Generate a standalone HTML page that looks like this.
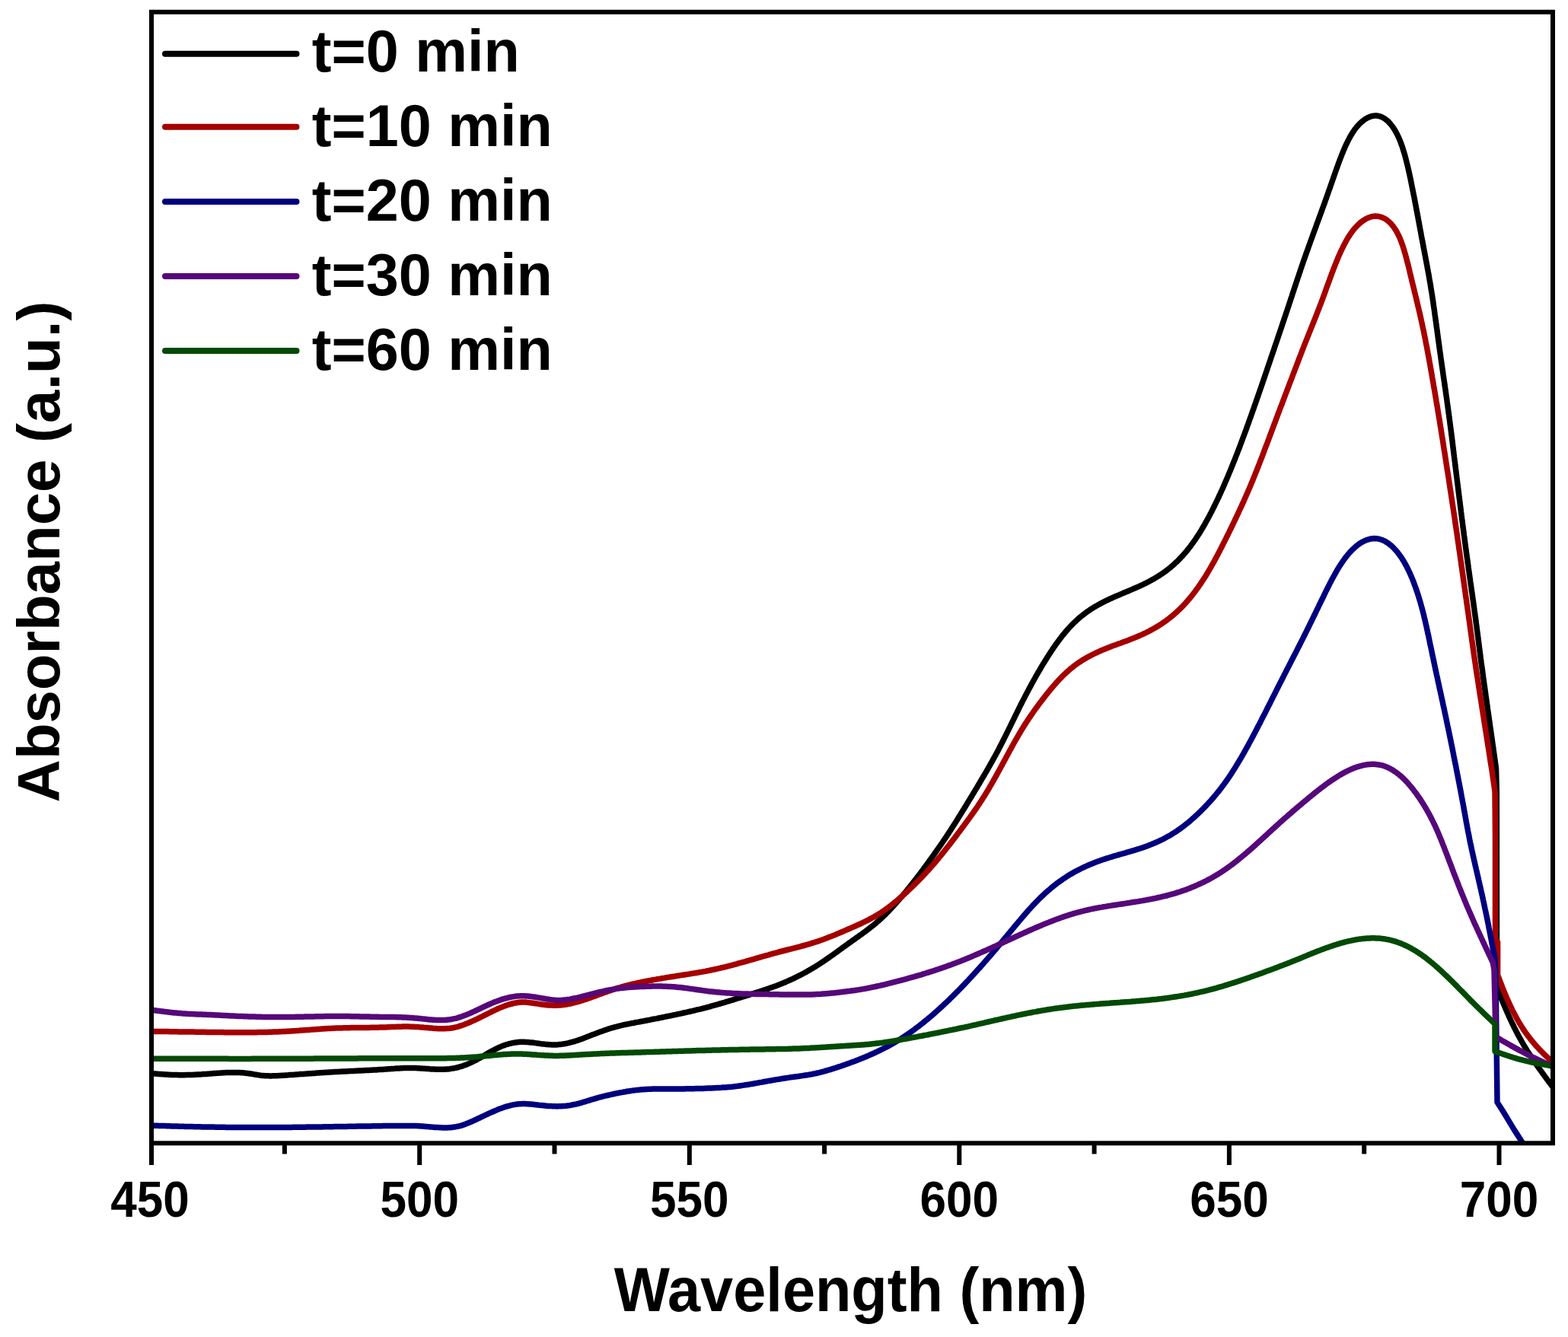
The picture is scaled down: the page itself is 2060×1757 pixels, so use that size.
<!DOCTYPE html>
<html><head><meta charset="utf-8"><title>Absorbance spectra</title>
<style>
html,body{margin:0;padding:0;background:#fff;}
body{width:2060px;height:1757px;overflow:hidden;}
svg{display:block;}
text{font-family:"Liberation Sans",Arial,sans-serif;font-weight:bold;fill:#000;}
</style></head>
<body>
<svg width="2060" height="1757" viewBox="0 0 2060 1757">
<rect width="2060" height="1757" fill="#fff"/>
<defs><clipPath id="pa"><rect x="199" y="15.8" width="1841" height="1486.5"/></clipPath></defs>
<g clip-path="url(#pa)" fill="none" stroke-width="7.5" stroke-linejoin="round" stroke-linecap="butt">
<path stroke="#000000" d="M199 1410.6L201 1410.8L203 1410.9L205 1411.1L207 1411.2L209 1411.4L211 1411.5L213 1411.7L215 1411.8L217 1412L219 1412.1L221 1412.2L223 1412.3L225 1412.4L227 1412.5L229 1412.5L231 1412.6L233 1412.6L235 1412.7L237 1412.7L239 1412.7L241 1412.7L243 1412.7L245 1412.6L247 1412.6L249 1412.5L251 1412.5L253 1412.4L255 1412.3L257 1412.2L259 1412.1L261 1412L263 1411.9L265 1411.8L267 1411.6L269 1411.5L271 1411.4L273 1411.2L275 1411.1L277 1410.9L279 1410.8L281 1410.6L283.1 1410.5L285.1 1410.3L287.1 1410.2L289.1 1410.1L291.1 1409.9L293.1 1409.8L295.1 1409.7L297.1 1409.6L299.1 1409.6L301.1 1409.5L303.1 1409.4L305.1 1409.4L307.1 1409.4L309.1 1409.4L311.1 1409.5L313.1 1409.5L315 1409.6L317 1409.7L319 1409.8L321 1410L323 1410.2L324.9 1410.4L326.9 1410.7L328.9 1411L330.8 1411.3L332.8 1411.6L334.7 1412L336.7 1412.3L338.6 1412.6L340.6 1412.9L342.6 1413.2L344.5 1413.4L346.5 1413.5L348.5 1413.7L350.5 1413.8L352.5 1413.8L354.4 1413.9L356.4 1413.9L358.4 1413.8L360.4 1413.8L362.4 1413.7L364.4 1413.7L366.4 1413.6L368.4 1413.5L370.5 1413.3L372.5 1413.2L374.5 1413.1L376.5 1412.9L378.5 1412.8L380.5 1412.6L382.5 1412.5L384.5 1412.4L386.5 1412.2L388.5 1412.1L390.5 1411.9L392.5 1411.8L394.5 1411.6L396.5 1411.5L398.5 1411.4L400.5 1411.2L402.5 1411.1L404.5 1410.9L406.5 1410.8L408.5 1410.7L410.5 1410.5L412.5 1410.4L414.5 1410.2L416.5 1410.1L418.5 1410L420.5 1409.8L422.5 1409.7L424.5 1409.6L426.5 1409.5L428.5 1409.3L430.5 1409.2L432.5 1409.1L434.5 1409L436.5 1408.8L438.5 1408.7L440.4 1408.6L442.4 1408.5L444.4 1408.4L446.4 1408.3L448.4 1408.2L450.4 1408.1L452.4 1408L454.4 1407.9L456.4 1407.8L458.4 1407.7L460.4 1407.6L462.4 1407.5L464.4 1407.4L466.4 1407.3L468.4 1407.2L470.4 1407.1L472.4 1407L474.4 1406.9L476.4 1406.8L478.4 1406.7L480.4 1406.6L482.4 1406.5L484.4 1406.4L486.4 1406.3L488.4 1406.2L490.4 1406.1L492.4 1406L494.4 1405.9L496.4 1405.7L498.4 1405.6L500.4 1405.5L502.4 1405.4L504.4 1405.2L506.4 1405.1L508.4 1404.9L510.4 1404.8L512.4 1404.7L514.4 1404.5L516.4 1404.4L518.4 1404.3L520.4 1404.1L522.4 1404L524.4 1403.9L526.4 1403.8L528.4 1403.7L530.4 1403.6L532.4 1403.6L534.4 1403.5L536.4 1403.5L538.4 1403.5L540.4 1403.5L542.4 1403.5L544.4 1403.6L546.4 1403.6L548.4 1403.7L550.4 1403.8L552.4 1403.9L554.4 1404.1L556.4 1404.2L558.4 1404.3L560.4 1404.5L562.4 1404.6L564.4 1404.8L566.4 1404.9L568.5 1405L570.5 1405.1L572.5 1405.2L574.5 1405.3L576.5 1405.3L578.5 1405.3L580.5 1405.3L582.5 1405.2L584.5 1405.2L586.5 1405L588.5 1404.9L590.5 1404.7L592.4 1404.4L594.4 1404.1L596.4 1403.8L598.3 1403.4L600.3 1403L602.2 1402.5L604.1 1401.9L606 1401.4L607.9 1400.8L609.8 1400.1L611.7 1399.4L613.5 1398.7L615.4 1397.9L617.2 1397.1L619 1396.2L620.8 1395.4L622.6 1394.5L624.4 1393.6L626.2 1392.6L627.9 1391.7L629.7 1390.7L631.5 1389.7L633.2 1388.7L635 1387.7L636.7 1386.7L638.4 1385.6L640.2 1384.6L641.9 1383.6L643.7 1382.6L645.4 1381.6L647.2 1380.7L649 1379.7L650.8 1378.8L652.6 1377.9L654.4 1377L656.2 1376.2L658 1375.4L659.9 1374.6L661.7 1373.9L663.6 1373.3L665.5 1372.6L667.4 1372.1L669.3 1371.5L671.3 1371.1L673.2 1370.6L675.2 1370.3L677.1 1369.9L679.1 1369.7L681.1 1369.5L683.1 1369.3L685.1 1369.3L687 1369.2L689 1369.3L691 1369.4L693 1369.5L695 1369.7L697 1369.9L699 1370.1L701 1370.3L703 1370.6L705 1370.9L707 1371.1L709 1371.4L711 1371.7L713 1371.9L715 1372.1L717 1372.4L719 1372.5L721 1372.7L723 1372.8L725 1372.9L727 1372.9L729 1372.9L731 1372.9L733 1372.8L734.9 1372.6L736.9 1372.4L738.9 1372.1L740.9 1371.8L742.8 1371.5L744.8 1371.1L746.7 1370.7L748.7 1370.2L750.6 1369.7L752.5 1369.2L754.4 1368.6L756.4 1368L758.3 1367.4L760.2 1366.7L762.1 1366.1L763.9 1365.4L765.8 1364.7L767.7 1364L769.6 1363.3L771.4 1362.6L773.3 1361.8L775.2 1361.1L777.1 1360.3L778.9 1359.6L780.8 1358.9L782.7 1358.2L784.5 1357.4L786.4 1356.7L788.3 1356L790.2 1355.4L792.1 1354.7L794 1354L795.9 1353.4L797.8 1352.7L799.7 1352.1L801.6 1351.5L803.5 1350.9L805.4 1350.4L807.3 1349.8L809.3 1349.3L811.2 1348.8L813.1 1348.3L815.1 1347.8L817 1347.4L819 1346.9L820.9 1346.5L822.9 1346.1L824.9 1345.7L826.8 1345.3L828.8 1344.9L830.8 1344.5L832.7 1344.2L834.7 1343.8L836.7 1343.4L838.6 1343.1L840.6 1342.7L842.6 1342.3L844.5 1342L846.5 1341.6L848.5 1341.2L850.4 1340.8L852.4 1340.5L854.4 1340.1L856.3 1339.7L858.3 1339.3L860.3 1338.9L862.2 1338.6L864.2 1338.2L866.2 1337.8L868.1 1337.4L870.1 1337L872.1 1336.6L874 1336.2L876 1335.8L878 1335.4L879.9 1335L881.9 1334.6L883.8 1334.2L885.8 1333.8L887.8 1333.4L889.7 1332.9L891.7 1332.5L893.6 1332.1L895.6 1331.7L897.5 1331.2L899.5 1330.8L901.5 1330.4L903.4 1329.9L905.4 1329.5L907.3 1329L909.3 1328.6L911.2 1328.1L913.2 1327.7L915.1 1327.2L917.1 1326.7L919 1326.3L920.9 1325.8L922.9 1325.3L924.8 1324.8L926.8 1324.3L928.7 1323.8L930.6 1323.3L932.6 1322.8L934.5 1322.2L936.4 1321.7L938.4 1321.2L940.3 1320.6L942.2 1320.1L944.1 1319.5L946.1 1319L948 1318.4L949.9 1317.8L951.8 1317.3L953.7 1316.7L955.7 1316.1L957.6 1315.5L959.5 1315L961.4 1314.4L963.3 1313.8L965.2 1313.2L967.2 1312.6L969.1 1312L971 1311.4L972.9 1310.8L974.8 1310.2L976.7 1309.6L978.6 1309.1L980.6 1308.5L982.5 1307.9L984.4 1307.3L986.3 1306.7L988.2 1306.1L990.1 1305.5L992 1304.9L993.9 1304.3L995.9 1303.7L997.8 1303.1L999.7 1302.4L1001.6 1301.8L1003.5 1301.2L1005.4 1300.6L1007.3 1299.9L1009.2 1299.3L1011.1 1298.6L1012.9 1297.9L1014.8 1297.3L1016.7 1296.6L1018.6 1295.9L1020.5 1295.2L1022.3 1294.5L1024.2 1293.7L1026.1 1293L1027.9 1292.2L1029.8 1291.5L1031.6 1290.7L1033.5 1289.9L1035.3 1289.1L1037.1 1288.3L1039 1287.5L1040.8 1286.6L1042.6 1285.8L1044.4 1284.9L1046.2 1284L1048 1283.1L1049.8 1282.2L1051.6 1281.3L1053.4 1280.4L1055.1 1279.5L1056.9 1278.5L1058.6 1277.6L1060.4 1276.6L1062.1 1275.6L1063.9 1274.6L1065.6 1273.6L1067.3 1272.6L1069 1271.5L1070.8 1270.5L1072.5 1269.4L1074.1 1268.4L1075.8 1267.3L1077.5 1266.2L1079.2 1265.1L1080.8 1264L1082.5 1262.9L1084.2 1261.8L1085.8 1260.6L1087.5 1259.5L1089.1 1258.3L1090.7 1257.2L1092.4 1256L1094 1254.9L1095.6 1253.7L1097.3 1252.5L1098.9 1251.4L1100.5 1250.2L1102.1 1249L1103.8 1247.8L1105.4 1246.7L1107 1245.5L1108.6 1244.3L1110.3 1243.1L1111.9 1241.9L1113.5 1240.8L1115.1 1239.6L1116.8 1238.4L1118.4 1237.2L1120 1236.1L1121.7 1234.9L1123.3 1233.8L1124.9 1232.6L1126.6 1231.4L1128.2 1230.3L1129.8 1229.1L1131.5 1227.9L1133.1 1226.7L1134.7 1225.6L1136.3 1224.4L1137.9 1223.2L1139.5 1222L1141.1 1220.8L1142.7 1219.5L1144.3 1218.3L1145.8 1217.1L1147.4 1215.8L1148.9 1214.6L1150.5 1213.3L1152 1212L1153.5 1210.7L1155 1209.4L1156.5 1208L1157.9 1206.7L1159.4 1205.3L1160.8 1203.9L1162.3 1202.5L1163.7 1201.1L1165.1 1199.7L1166.5 1198.3L1167.9 1196.9L1169.2 1195.4L1170.6 1194L1172 1192.5L1173.3 1191L1174.7 1189.6L1176 1188.1L1177.4 1186.6L1178.7 1185.1L1180 1183.6L1181.3 1182.1L1182.6 1180.6L1184 1179L1185.3 1177.5L1186.5 1176L1187.8 1174.4L1189.1 1172.9L1190.4 1171.4L1191.7 1169.8L1192.9 1168.2L1194.2 1166.7L1195.5 1165.1L1196.7 1163.6L1197.9 1162L1199.2 1160.4L1200.4 1158.8L1201.7 1157.2L1202.9 1155.7L1204.1 1154.1L1205.3 1152.5L1206.5 1150.9L1207.8 1149.3L1209 1147.7L1210.2 1146.1L1211.4 1144.5L1212.6 1142.9L1213.8 1141.2L1215 1139.6L1216.1 1138L1217.3 1136.4L1218.5 1134.8L1219.7 1133.2L1220.9 1131.5L1222 1129.9L1223.2 1128.3L1224.4 1126.7L1225.5 1125L1226.7 1123.4L1227.9 1121.8L1229 1120.1L1230.2 1118.5L1231.3 1116.8L1232.5 1115.2L1233.6 1113.6L1234.8 1111.9L1235.9 1110.3L1237.1 1108.6L1238.2 1107L1239.3 1105.3L1240.4 1103.7L1241.5 1102L1242.7 1100.3L1243.8 1098.7L1244.9 1097L1246 1095.3L1247.1 1093.6L1248.2 1092L1249.3 1090.3L1250.3 1088.6L1251.4 1086.9L1252.5 1085.2L1253.6 1083.5L1254.6 1081.9L1255.7 1080.2L1256.8 1078.5L1257.8 1076.8L1258.9 1075.1L1259.9 1073.4L1261 1071.7L1262.1 1070L1263.1 1068.3L1264.2 1066.6L1265.2 1064.9L1266.3 1063.2L1267.3 1061.5L1268.4 1059.7L1269.4 1058L1270.4 1056.3L1271.5 1054.6L1272.5 1052.9L1273.6 1051.2L1274.6 1049.5L1275.6 1047.8L1276.7 1046.1L1277.7 1044.4L1278.7 1042.6L1279.8 1040.9L1280.8 1039.2L1281.8 1037.5L1282.9 1035.8L1283.9 1034.1L1284.9 1032.3L1285.9 1030.6L1287 1028.9L1288 1027.2L1289 1025.5L1290 1023.7L1291 1022L1292 1020.3L1293.1 1018.6L1294.1 1016.8L1295.1 1015.1L1296.1 1013.4L1297.1 1011.6L1298.1 1009.9L1299.1 1008.2L1300.1 1006.4L1301 1004.7L1302 1003L1303 1001.2L1304 999.5L1304.9 997.7L1305.9 996L1306.9 994.2L1307.8 992.5L1308.8 990.7L1309.7 989L1310.7 987.2L1311.6 985.4L1312.5 983.7L1313.4 981.9L1314.4 980.1L1315.3 978.3L1316.2 976.6L1317.1 974.8L1318 973L1318.9 971.2L1319.8 969.4L1320.7 967.6L1321.6 965.8L1322.5 964L1323.4 962.3L1324.2 960.5L1325.1 958.7L1326 956.9L1326.9 955.1L1327.8 953.3L1328.6 951.5L1329.5 949.7L1330.4 947.9L1331.3 946.1L1332.2 944.3L1333 942.5L1333.9 940.7L1334.8 938.9L1335.7 937.1L1336.6 935.3L1337.5 933.5L1338.3 931.7L1339.2 929.9L1340.1 928.1L1341 926.3L1341.9 924.5L1342.8 922.7L1343.8 920.9L1344.7 919.1L1345.6 917.4L1346.5 915.6L1347.4 913.8L1348.4 912L1349.3 910.2L1350.2 908.5L1351.2 906.7L1352.1 904.9L1353.1 903.1L1354 901.4L1355 899.6L1355.9 897.8L1356.9 896.1L1357.9 894.3L1358.9 892.6L1359.9 890.8L1360.8 889.1L1361.8 887.3L1362.8 885.6L1363.8 883.8L1364.9 882.1L1365.9 880.4L1366.9 878.6L1367.9 876.9L1368.9 875.2L1370 873.4L1371 871.7L1372.1 870L1373.1 868.3L1374.2 866.6L1375.3 864.9L1376.3 863.2L1377.4 861.5L1378.5 859.8L1379.6 858.1L1380.7 856.4L1381.8 854.8L1382.9 853.1L1384 851.4L1385.2 849.8L1386.3 848.1L1387.5 846.5L1388.6 844.9L1389.8 843.3L1391 841.7L1392.2 840.1L1393.4 838.5L1394.6 836.9L1395.8 835.3L1397.1 833.8L1398.3 832.3L1399.6 830.7L1400.9 829.2L1402.2 827.7L1403.5 826.2L1404.8 824.8L1406.2 823.3L1407.5 821.9L1408.9 820.5L1410.3 819.1L1411.7 817.7L1413.1 816.4L1414.6 815L1416 813.7L1417.5 812.4L1419 811.1L1420.5 809.9L1422 808.7L1423.6 807.5L1425.2 806.3L1426.7 805.1L1428.3 803.9L1429.9 802.8L1431.6 801.7L1433.2 800.6L1434.9 799.6L1436.5 798.5L1438.2 797.5L1439.9 796.5L1441.7 795.5L1443.4 794.5L1445.1 793.6L1446.9 792.6L1448.6 791.7L1450.4 790.8L1452.2 789.9L1454 789L1455.8 788.2L1457.6 787.3L1459.4 786.5L1461.2 785.7L1463.1 784.8L1464.9 784L1466.8 783.2L1468.6 782.4L1470.5 781.7L1472.3 780.9L1474.2 780.1L1476 779.3L1477.9 778.5L1479.7 777.8L1481.6 777L1483.5 776.2L1485.3 775.4L1487.2 774.6L1489 773.8L1490.9 773.1L1492.7 772.2L1494.5 771.4L1496.4 770.6L1498.2 769.8L1500 768.9L1501.8 768.1L1503.6 767.2L1505.4 766.3L1507.2 765.4L1509 764.5L1510.7 763.5L1512.5 762.6L1514.2 761.6L1515.9 760.7L1517.7 759.6L1519.4 758.6L1521 757.6L1522.7 756.5L1524.4 755.4L1526 754.4L1527.7 753.2L1529.3 752.1L1530.9 750.9L1532.5 749.8L1534 748.6L1535.6 747.3L1537.1 746.1L1538.6 744.8L1540.1 743.6L1541.6 742.3L1543.1 740.9L1544.5 739.6L1546 738.2L1547.4 736.9L1548.8 735.5L1550.1 734.1L1551.5 732.6L1552.9 731.2L1554.2 729.7L1555.5 728.2L1556.8 726.7L1558.1 725.2L1559.4 723.7L1560.6 722.2L1561.8 720.6L1563.1 719L1564.3 717.4L1565.4 715.8L1566.6 714.2L1567.8 712.6L1568.9 711L1570.1 709.3L1571.2 707.7L1572.3 706L1573.4 704.3L1574.5 702.7L1575.6 701L1576.6 699.3L1577.7 697.6L1578.7 695.9L1579.7 694.1L1580.8 692.4L1581.8 690.7L1582.8 688.9L1583.7 687.2L1584.7 685.4L1585.7 683.7L1586.7 681.9L1587.6 680.1L1588.6 678.4L1589.5 676.6L1590.4 674.8L1591.4 673L1592.3 671.2L1593.2 669.4L1594.1 667.6L1595 665.8L1595.9 664L1596.7 662.2L1597.6 660.4L1598.5 658.6L1599.4 656.8L1600.2 655L1601.1 653.2L1601.9 651.3L1602.8 649.5L1603.6 647.7L1604.4 645.9L1605.3 644L1606.1 642.2L1606.9 640.4L1607.7 638.5L1608.5 636.7L1609.3 634.8L1610.1 633L1610.9 631.2L1611.7 629.3L1612.5 627.5L1613.3 625.6L1614 623.8L1614.8 621.9L1615.6 620.1L1616.4 618.2L1617.1 616.4L1617.9 614.5L1618.6 612.7L1619.4 610.8L1620.1 608.9L1620.9 607.1L1621.6 605.2L1622.4 603.4L1623.1 601.5L1623.8 599.6L1624.6 597.8L1625.3 595.9L1626 594L1626.7 592.2L1627.5 590.3L1628.2 588.4L1628.9 586.5L1629.6 584.7L1630.3 582.8L1631 580.9L1631.7 579L1632.4 577.2L1633.1 575.3L1633.8 573.4L1634.5 571.5L1635.2 569.7L1635.9 567.8L1636.6 565.9L1637.3 564L1637.9 562.1L1638.6 560.2L1639.3 558.4L1640 556.5L1640.7 554.6L1641.3 552.7L1642 550.8L1642.7 548.9L1643.4 547.1L1644 545.2L1644.7 543.3L1645.4 541.4L1646 539.5L1646.7 537.6L1647.4 535.7L1648 533.8L1648.7 531.9L1649.4 530.1L1650 528.2L1650.7 526.3L1651.3 524.4L1652 522.5L1652.7 520.6L1653.3 518.7L1654 516.8L1654.6 514.9L1655.3 513L1655.9 511.1L1656.6 509.2L1657.2 507.4L1657.9 505.5L1658.5 503.6L1659.2 501.7L1659.8 499.8L1660.5 497.9L1661.1 496L1661.8 494.1L1662.4 492.2L1663.1 490.3L1663.7 488.4L1664.4 486.5L1665 484.6L1665.6 482.7L1666.3 480.8L1666.9 478.9L1667.6 477L1668.2 475.1L1668.9 473.2L1669.5 471.3L1670.1 469.4L1670.8 467.5L1671.4 465.6L1672.1 463.8L1672.7 461.9L1673.4 460L1674 458.1L1674.6 456.2L1675.3 454.3L1675.9 452.4L1676.6 450.5L1677.2 448.6L1677.9 446.7L1678.5 444.8L1679.2 442.9L1679.8 441L1680.4 439.1L1681.1 437.2L1681.7 435.3L1682.4 433.4L1683 431.5L1683.7 429.6L1684.3 427.7L1684.9 425.8L1685.6 423.9L1686.2 422L1686.9 420.1L1687.5 418.2L1688.1 416.3L1688.8 414.4L1689.4 412.5L1690 410.6L1690.7 408.7L1691.3 406.8L1691.9 404.9L1692.6 403L1693.2 401.1L1693.8 399.2L1694.5 397.3L1695.1 395.4L1695.7 393.5L1696.3 391.6L1697 389.7L1697.6 387.8L1698.2 385.9L1698.8 384L1699.5 382.1L1700.1 380.2L1700.7 378.3L1701.4 376.4L1702 374.5L1702.6 372.6L1703.2 370.7L1703.9 368.8L1704.5 366.9L1705.1 365L1705.8 363.2L1706.4 361.3L1707 359.4L1707.7 357.5L1708.3 355.6L1708.9 353.7L1709.6 351.8L1710.2 349.9L1710.9 348L1711.5 346.1L1712.2 344.2L1712.8 342.3L1713.5 340.5L1714.2 338.6L1714.8 336.7L1715.5 334.8L1716.2 332.9L1716.8 331L1717.5 329.1L1718.2 327.3L1718.8 325.4L1719.5 323.5L1720.2 321.6L1720.9 319.7L1721.5 317.9L1722.2 316L1722.9 314.1L1723.6 312.2L1724.3 310.3L1724.9 308.5L1725.6 306.6L1726.3 304.7L1727 302.8L1727.7 301L1728.4 299.1L1729.1 297.2L1729.7 295.3L1730.4 293.4L1731.1 291.6L1731.8 289.7L1732.5 287.8L1733.2 285.9L1733.9 284L1734.6 282.2L1735.3 280.3L1736 278.4L1736.6 276.5L1737.3 274.6L1738 272.7L1738.7 270.8L1739.4 268.9L1740.1 267.1L1740.7 265.2L1741.4 263.3L1742.1 261.4L1742.8 259.5L1743.4 257.5L1744.1 255.6L1744.8 253.7L1745.4 251.8L1746.1 249.9L1746.8 248L1747.5 246.1L1748.1 244.1L1748.8 242.2L1749.5 240.3L1750.1 238.4L1750.8 236.4L1751.5 234.5L1752.2 232.6L1752.8 230.6L1753.5 228.7L1754.2 226.7L1754.9 224.8L1755.6 222.8L1756.3 220.9L1757 218.9L1757.7 217L1758.4 215L1759.1 213.1L1759.8 211.2L1760.6 209.2L1761.3 207.3L1762.1 205.3L1762.8 203.4L1763.6 201.5L1764.4 199.5L1765.2 197.6L1766 195.7L1766.8 193.8L1767.7 191.9L1768.5 190L1769.4 188.2L1770.3 186.3L1771.2 184.5L1772.2 182.7L1773.1 180.9L1774.1 179.1L1775.2 177.3L1776.2 175.6L1777.3 173.9L1778.4 172.3L1779.5 170.6L1780.7 169L1781.9 167.5L1783.2 166L1784.5 164.5L1785.8 163.1L1787.2 161.7L1788.6 160.4L1790.1 159.2L1791.6 158L1793.1 156.9L1794.7 155.9L1796.3 155L1798 154.2L1799.7 153.5L1801.4 152.9L1803.1 152.5L1804.8 152.2L1806.6 152.1L1808.3 152.1L1810.1 152.3L1811.8 152.6L1813.5 153.1L1815.1 153.7L1816.7 154.5L1818.3 155.4L1819.9 156.4L1821.3 157.6L1822.8 158.8L1824.2 160.1L1825.5 161.5L1826.8 163L1828 164.5L1829.2 166L1830.3 167.6L1831.4 169.3L1832.5 171L1833.5 172.7L1834.4 174.4L1835.4 176.2L1836.2 177.9L1837.1 179.7L1837.9 181.6L1838.7 183.4L1839.5 185.3L1840.2 187.2L1840.9 189.1L1841.6 191L1842.3 192.9L1842.9 194.9L1843.5 196.8L1844.1 198.8L1844.7 200.7L1845.3 202.7L1845.8 204.7L1846.4 206.7L1846.9 208.7L1847.4 210.6L1847.9 212.6L1848.4 214.6L1848.9 216.6L1849.4 218.6L1849.9 220.7L1850.3 222.7L1850.8 224.7L1851.2 226.7L1851.7 228.7L1852.1 230.7L1852.5 232.7L1853 234.7L1853.4 236.7L1853.8 238.8L1854.2 240.8L1854.6 242.8L1855 244.8L1855.4 246.8L1855.8 248.8L1856.2 250.8L1856.6 252.8L1857 254.8L1857.4 256.8L1857.8 258.8L1858.2 260.8L1858.6 262.8L1858.9 264.8L1859.3 266.8L1859.7 268.7L1860.1 270.7L1860.5 272.7L1860.8 274.7L1861.2 276.7L1861.6 278.7L1862 280.6L1862.3 282.6L1862.7 284.6L1863.1 286.6L1863.4 288.6L1863.8 290.5L1864.2 292.5L1864.5 294.5L1864.9 296.4L1865.3 298.4L1865.6 300.4L1866 302.4L1866.4 304.3L1866.7 306.3L1867.1 308.3L1867.4 310.2L1867.8 312.2L1868.2 314.2L1868.6 316.1L1868.9 318.1L1869.3 320.1L1869.7 322L1870 324L1870.4 326L1870.8 327.9L1871.2 329.9L1871.5 331.8L1871.9 333.8L1872.3 335.8L1872.7 337.7L1873 339.7L1873.4 341.7L1873.8 343.6L1874.1 345.6L1874.5 347.6L1874.9 349.5L1875.2 351.5L1875.6 353.5L1876 355.4L1876.3 357.4L1876.7 359.4L1877 361.3L1877.4 363.3L1877.7 365.3L1878 367.2L1878.4 369.2L1878.7 371.2L1879.1 373.1L1879.4 375.1L1879.7 377.1L1880 379.1L1880.3 381L1880.7 383L1881 385L1881.3 387L1881.6 388.9L1881.9 390.9L1882.2 392.9L1882.5 394.9L1882.8 396.9L1883.1 398.8L1883.3 400.8L1883.6 402.8L1883.9 404.8L1884.2 406.8L1884.5 408.7L1884.8 410.7L1885 412.7L1885.3 414.7L1885.6 416.7L1885.9 418.7L1886.1 420.6L1886.4 422.6L1886.7 424.6L1886.9 426.6L1887.2 428.6L1887.5 430.6L1887.8 432.5L1888 434.5L1888.3 436.5L1888.6 438.5L1888.8 440.5L1889.1 442.5L1889.4 444.4L1889.6 446.4L1889.9 448.4L1890.2 450.4L1890.5 452.4L1890.7 454.4L1891 456.4L1891.3 458.3L1891.5 460.3L1891.8 462.3L1892.1 464.3L1892.4 466.3L1892.7 468.3L1892.9 470.2L1893.2 472.2L1893.5 474.2L1893.8 476.2L1894.1 478.2L1894.3 480.2L1894.6 482.1L1894.9 484.1L1895.2 486.1L1895.5 488.1L1895.8 490.1L1896 492L1896.3 494L1896.6 496L1896.9 498L1897.2 500L1897.5 502L1897.8 503.9L1898 505.9L1898.3 507.9L1898.6 509.9L1898.9 511.9L1899.2 513.8L1899.5 515.8L1899.7 517.8L1900 519.8L1900.3 521.8L1900.6 523.8L1900.9 525.7L1901.1 527.7L1901.4 529.7L1901.7 531.7L1902 533.7L1902.2 535.7L1902.5 537.6L1902.8 539.6L1903 541.6L1903.3 543.6L1903.6 545.6L1903.8 547.6L1904.1 549.6L1904.4 551.5L1904.6 553.5L1904.9 555.5L1905.1 557.5L1905.4 559.5L1905.7 561.5L1905.9 563.5L1906.2 565.4L1906.4 567.4L1906.7 569.4L1906.9 571.4L1907.2 573.4L1907.4 575.4L1907.7 577.4L1907.9 579.3L1908.2 581.3L1908.4 583.3L1908.7 585.3L1908.9 587.3L1909.1 589.3L1909.4 591.3L1909.6 593.3L1909.9 595.2L1910.1 597.2L1910.4 599.2L1910.6 601.2L1910.9 603.2L1911.1 605.2L1911.4 607.2L1911.6 609.2L1911.8 611.1L1912.1 613.1L1912.3 615.1L1912.6 617.1L1912.8 619.1L1913.1 621.1L1913.3 623.1L1913.6 625.1L1913.8 627L1914.1 629L1914.3 631L1914.5 633L1914.8 635L1915 637L1915.3 639L1915.5 641L1915.8 642.9L1916 644.9L1916.3 646.9L1916.5 648.9L1916.8 650.9L1917 652.9L1917.3 654.9L1917.5 656.8L1917.8 658.8L1918 660.8L1918.3 662.8L1918.5 664.8L1918.8 666.8L1919 668.8L1919.3 670.8L1919.5 672.7L1919.8 674.7L1920 676.7L1920.3 678.7L1920.5 680.7L1920.8 682.7L1921 684.7L1921.3 686.6L1921.5 688.6L1921.8 690.6L1922 692.6L1922.3 694.6L1922.6 696.6L1922.8 698.6L1923.1 700.6L1923.3 702.5L1923.6 704.5L1923.9 706.5L1924.1 708.5L1924.4 710.5L1924.6 712.5L1924.9 714.4L1925.2 716.4L1925.4 718.4L1925.7 720.4L1926 722.4L1926.2 724.4L1926.5 726.4L1926.8 728.3L1927 730.3L1927.3 732.3L1927.6 734.3L1927.9 736.3L1928.1 738.3L1928.4 740.2L1928.7 742.2L1929 744.2L1929.2 746.2L1929.5 748.2L1929.8 750.2L1930.1 752.1L1930.3 754.1L1930.6 756.1L1930.9 758.1L1931.2 760.1L1931.5 762.1L1931.7 764L1932 766L1932.3 768L1932.6 770L1932.9 772L1933.1 774L1933.4 775.9L1933.7 777.9L1934 779.9L1934.3 781.9L1934.5 783.9L1934.8 785.8L1935.1 787.8L1935.4 789.8L1935.7 791.8L1935.9 793.8L1936.2 795.8L1936.5 797.7L1936.8 799.7L1937 801.7L1937.3 803.7L1937.6 805.7L1937.8 807.7L1938.1 809.6L1938.4 811.6L1938.7 813.6L1938.9 815.6L1939.2 817.6L1939.4 819.6L1939.7 821.6L1940 823.5L1940.2 825.5L1940.5 827.5L1940.7 829.5L1941 831.5L1941.3 833.5L1941.5 835.5L1941.8 837.4L1942 839.4L1942.3 841.4L1942.5 843.4L1942.8 845.4L1943 847.4L1943.3 849.4L1943.5 851.3L1943.8 853.3L1944 855.3L1944.3 857.3L1944.6 859.3L1944.8 861.3L1945.1 863.3L1945.3 865.2L1945.6 867.2L1945.9 869.2L1946.1 871.2L1946.4 873.2L1946.7 875.2L1946.9 877.1L1947.2 879.1L1947.5 881.1L1947.7 883.1L1948 885.1L1948.3 887.1L1948.5 889.1L1948.8 891L1949.1 893L1949.4 895L1949.6 897L1949.9 899L1950.2 901L1950.5 902.9L1950.7 904.9L1951 906.9L1951.3 908.9L1951.6 910.9L1951.8 912.9L1952.1 914.8L1952.4 916.8L1952.7 918.8L1952.9 920.8L1953.2 922.8L1953.5 924.8L1953.8 926.7L1954.1 928.7L1954.3 930.7L1954.6 932.7L1954.9 934.7L1955.2 936.6L1955.5 938.6L1955.7 940.6L1956 942.6L1956.3 944.6L1956.6 946.6L1956.9 948.5L1957.1 950.5L1957.4 952.5L1957.7 954.5L1958 956.5L1958.3 958.5L1958.6 960.4L1958.8 962.4L1959.1 964.4L1959.4 966.4L1959.7 968.4L1960 970.3L1960.3 972.3L1960.5 974.3L1960.8 976.3L1961.1 978.3L1961.4 980.3L1961.7 982.2L1962 984.2L1962.2 986.2L1962.5 988.2L1962.8 990.2L1963.1 992.1L1963.3 994.1L1963.6 996.1L1963.9 998.1L1964.2 1000.1L1964.4 1002.1L1964.7 1004L1965 1006L1965.2 1008L1965.5 1010L1966.3 1040L1966.5 1298L1967.3 1299.9L1968 1301.8L1968.8 1303.7L1969.6 1305.5L1970.4 1307.4L1971.2 1309.3L1971.9 1311.2L1972.7 1313.1L1973.5 1314.9L1974.3 1316.8L1975.1 1318.7L1975.9 1320.6L1976.7 1322.4L1977.5 1324.3L1978.3 1326.2L1979.1 1328L1979.9 1329.9L1980.7 1331.8L1981.6 1333.6L1982.4 1335.5L1983.2 1337.3L1984.1 1339.2L1984.9 1341L1985.8 1342.9L1986.7 1344.7L1987.6 1346.5L1988.5 1348.3L1989.3 1350.2L1990.3 1352L1991.2 1353.8L1992.1 1355.6L1993 1357.4L1994 1359.2L1994.9 1361L1995.9 1362.8L1996.9 1364.5L1997.9 1366.3L1998.9 1368.1L1999.9 1369.8L2000.9 1371.6L2001.9 1373.3L2002.9 1375.1L2004 1376.8L2005 1378.5L2006.1 1380.3L2007.2 1382L2008.3 1383.7L2009.4 1385.4L2010.5 1387.1L2011.6 1388.8L2012.7 1390.5L2013.8 1392.2L2015 1393.9L2016.1 1395.6L2017.3 1397.2L2018.4 1398.9L2019.6 1400.6L2020.7 1402.2L2021.9 1403.9L2023.1 1405.5L2024.3 1407.2L2025.5 1408.8L2026.7 1410.5L2027.9 1412.1L2029.1 1413.8L2030.3 1415.4L2031.5 1417.1L2032.7 1418.7L2033.9 1420.3L2035.1 1422L2036.3 1423.6L2037.6 1425.2L2038.8 1426.9L2040 1428.5"/>
<path stroke="#a50000" d="M199 1355.3L201 1355.3L203 1355.4L205 1355.4L207 1355.4L209 1355.5L211 1355.5L213 1355.5L215 1355.5L217 1355.6L219 1355.6L221 1355.6L223 1355.7L225 1355.7L227 1355.7L229 1355.8L231 1355.8L233 1355.8L235 1355.9L237 1355.9L239 1355.9L241 1355.9L243 1356L245 1356L247 1356L249 1356.1L251 1356.1L253 1356.1L255 1356.1L257 1356.2L259 1356.2L261 1356.2L263 1356.3L265 1356.3L267 1356.3L269 1356.3L271.1 1356.4L273.1 1356.4L275.1 1356.4L277.1 1356.5L279.1 1356.5L281.1 1356.5L283.1 1356.5L285.1 1356.6L287.1 1356.6L289.1 1356.6L291.1 1356.6L293.1 1356.6L295.1 1356.7L297.1 1356.7L299.1 1356.7L301.1 1356.7L303.1 1356.7L305.1 1356.7L307.1 1356.8L309.1 1356.8L311.1 1356.8L313.1 1356.8L315.1 1356.8L317.1 1356.8L319.1 1356.8L321.1 1356.8L323.1 1356.8L325.1 1356.8L327.1 1356.8L329.1 1356.7L331.1 1356.7L333.1 1356.7L335.1 1356.7L337.1 1356.7L339.1 1356.6L341.1 1356.6L343.1 1356.6L345.1 1356.5L347.1 1356.5L349.1 1356.4L351.1 1356.4L353.1 1356.3L355.1 1356.3L357.1 1356.2L359.1 1356.1L361.1 1356.1L363.1 1356L365.1 1355.9L367.1 1355.8L369.1 1355.7L371.1 1355.6L373.1 1355.5L375.1 1355.4L377.1 1355.3L379.1 1355.2L381.1 1355.1L383.1 1355L385.1 1354.8L387.1 1354.7L389.1 1354.6L391.1 1354.4L393.1 1354.3L395.1 1354.1L397.1 1354L399.1 1353.8L401.1 1353.7L403.1 1353.5L405.1 1353.4L407.1 1353.2L409.1 1353.1L411.1 1352.9L413.1 1352.8L415.1 1352.7L417.1 1352.5L419.1 1352.4L421.1 1352.2L423.1 1352.1L425.1 1352L427.1 1351.8L429.1 1351.7L431.1 1351.6L433.1 1351.5L435.1 1351.4L437 1351.3L439 1351.2L441 1351.1L443 1351.1L445 1351L447 1350.9L449 1350.9L451 1350.8L453 1350.8L455 1350.7L457 1350.7L459 1350.7L461 1350.6L463 1350.6L465 1350.6L467.1 1350.5L469.1 1350.5L471.1 1350.5L473.1 1350.5L475.1 1350.5L477.1 1350.4L479.1 1350.4L481.1 1350.4L483.1 1350.4L485.1 1350.4L487.1 1350.3L489.1 1350.3L491.1 1350.3L493.1 1350.2L495.1 1350.2L497.1 1350.2L499.1 1350.1L501.1 1350.1L503.1 1350L505.1 1349.9L507.1 1349.9L509.1 1349.8L511.1 1349.7L513.1 1349.6L515.1 1349.6L517.1 1349.5L519.1 1349.4L521.1 1349.3L523.1 1349.3L525.1 1349.2L527.1 1349.2L529.1 1349.1L531.1 1349.1L533.1 1349.1L535.1 1349.1L537.1 1349.1L539.1 1349.2L541.1 1349.2L543.1 1349.3L545.1 1349.4L547.1 1349.5L549.1 1349.6L551.1 1349.8L553.1 1349.9L555.1 1350.1L557.1 1350.3L559.1 1350.4L561.1 1350.6L563.1 1350.8L565.1 1351L567.1 1351.1L569.1 1351.3L571.1 1351.4L573.1 1351.5L575.1 1351.7L577.1 1351.7L579.1 1351.8L581.1 1351.8L583.1 1351.8L585.1 1351.7L587.1 1351.6L589.1 1351.5L591 1351.3L593 1351L594.9 1350.7L596.9 1350.3L598.8 1349.9L600.7 1349.4L602.7 1348.8L604.6 1348.2L606.5 1347.6L608.3 1347L610.2 1346.3L612.1 1345.5L613.9 1344.8L615.8 1344L617.6 1343.2L619.5 1342.4L621.3 1341.6L623.1 1340.8L625 1339.9L626.8 1339.1L628.6 1338.2L630.4 1337.3L632.2 1336.4L634 1335.5L635.8 1334.6L637.6 1333.7L639.4 1332.8L641.2 1331.9L643 1331L644.8 1330.1L646.6 1329.2L648.5 1328.3L650.3 1327.4L652.1 1326.6L653.9 1325.7L655.8 1324.9L657.6 1324.1L659.5 1323.4L661.3 1322.6L663.2 1321.9L665.1 1321.3L666.9 1320.6L668.8 1320L670.8 1319.5L672.7 1319L674.6 1318.5L676.5 1318.1L678.5 1317.8L680.4 1317.5L682.4 1317.3L684.4 1317.1L686.3 1317.1L688.3 1317.1L690.3 1317.1L692.2 1317.3L694.2 1317.4L696.2 1317.7L698.2 1317.9L700.2 1318.2L702.2 1318.5L704.2 1318.8L706.2 1319.1L708.1 1319.4L710.1 1319.7L712.1 1320L714.1 1320.2L716.1 1320.5L718.1 1320.7L720.1 1320.9L722.1 1321L724.1 1321.1L726.1 1321.2L728.1 1321.3L730.1 1321.3L732.1 1321.2L734.1 1321.1L736.1 1321L738.1 1320.8L740.1 1320.5L742 1320.3L744 1320L746 1319.6L747.9 1319.3L749.9 1318.8L751.8 1318.4L753.8 1317.9L755.7 1317.4L757.7 1316.9L759.6 1316.4L761.5 1315.8L763.4 1315.2L765.3 1314.6L767.2 1314L769.1 1313.4L771 1312.7L772.9 1312.1L774.8 1311.4L776.7 1310.7L778.6 1310L780.5 1309.4L782.4 1308.7L784.3 1308L786.1 1307.3L788 1306.6L789.9 1305.9L791.8 1305.2L793.7 1304.5L795.6 1303.9L797.5 1303.2L799.3 1302.5L801.2 1301.9L803.1 1301.2L805 1300.6L806.9 1299.9L808.8 1299.3L810.7 1298.7L812.6 1298.1L814.6 1297.6L816.5 1297L818.4 1296.5L820.3 1295.9L822.3 1295.4L824.2 1294.9L826.1 1294.4L828.1 1293.9L830 1293.5L832 1293L833.9 1292.6L835.9 1292.1L837.8 1291.7L839.8 1291.3L841.8 1290.8L843.7 1290.4L845.7 1290L847.6 1289.7L849.6 1289.3L851.6 1288.9L853.5 1288.5L855.5 1288.2L857.5 1287.8L859.5 1287.4L861.4 1287.1L863.4 1286.7L865.4 1286.4L867.3 1286.1L869.3 1285.7L871.3 1285.4L873.3 1285.1L875.2 1284.7L877.2 1284.4L879.2 1284.1L881.2 1283.8L883.1 1283.5L885.1 1283.2L887.1 1282.9L889.1 1282.5L891.1 1282.2L893 1281.9L895 1281.6L897 1281.3L899 1281L901 1280.7L902.9 1280.4L904.9 1280.1L906.9 1279.8L908.9 1279.4L910.8 1279.1L912.8 1278.8L914.8 1278.5L916.8 1278.1L918.7 1277.8L920.7 1277.4L922.7 1277.1L924.6 1276.7L926.6 1276.4L928.6 1276L930.5 1275.6L932.5 1275.2L934.5 1274.8L936.4 1274.4L938.4 1274L940.3 1273.5L942.3 1273.1L944.2 1272.6L946.2 1272.2L948.1 1271.7L950.1 1271.3L952 1270.8L954 1270.3L955.9 1269.8L957.8 1269.3L959.8 1268.8L961.7 1268.3L963.7 1267.8L965.6 1267.3L967.5 1266.8L969.5 1266.2L971.4 1265.7L973.3 1265.2L975.2 1264.6L977.2 1264.1L979.1 1263.6L981 1263L983 1262.5L984.9 1261.9L986.8 1261.4L988.7 1260.8L990.7 1260.3L992.6 1259.7L994.5 1259.2L996.4 1258.6L998.3 1258L1000.3 1257.5L1002.2 1256.9L1004.1 1256.4L1006 1255.8L1008 1255.3L1009.9 1254.8L1011.8 1254.2L1013.8 1253.7L1015.7 1253.1L1017.6 1252.6L1019.5 1252.1L1021.5 1251.6L1023.4 1251L1025.3 1250.5L1027.3 1250L1029.2 1249.5L1031.2 1249L1033.1 1248.5L1035 1248L1037 1247.5L1038.9 1247.1L1040.9 1246.6L1042.8 1246.1L1044.8 1245.6L1046.7 1245.1L1048.6 1244.6L1050.6 1244.1L1052.5 1243.5L1054.4 1243L1056.4 1242.5L1058.3 1242L1060.2 1241.4L1062.1 1240.9L1064.1 1240.3L1066 1239.7L1067.9 1239.1L1069.8 1238.5L1071.7 1237.9L1073.6 1237.3L1075.5 1236.7L1077.4 1236L1079.3 1235.3L1081.1 1234.7L1083 1234L1084.9 1233.3L1086.8 1232.6L1088.6 1231.8L1090.5 1231.1L1092.3 1230.4L1094.2 1229.6L1096.1 1228.9L1097.9 1228.1L1099.8 1227.3L1101.6 1226.6L1103.5 1225.8L1105.3 1225L1107.2 1224.2L1109 1223.4L1110.8 1222.6L1112.7 1221.8L1114.5 1221L1116.4 1220.2L1118.2 1219.4L1120 1218.6L1121.9 1217.8L1123.7 1217L1125.5 1216.2L1127.4 1215.3L1129.2 1214.5L1131 1213.7L1132.8 1212.8L1134.6 1211.9L1136.4 1211.1L1138.2 1210.2L1140 1209.3L1141.8 1208.4L1143.6 1207.4L1145.3 1206.5L1147.1 1205.5L1148.8 1204.6L1150.5 1203.6L1152.2 1202.5L1153.9 1201.5L1155.6 1200.4L1157.3 1199.4L1158.9 1198.2L1160.6 1197.1L1162.2 1196L1163.9 1194.8L1165.5 1193.7L1167.1 1192.5L1168.7 1191.3L1170.2 1190.1L1171.8 1188.8L1173.4 1187.6L1174.9 1186.3L1176.5 1185.1L1178 1183.8L1179.6 1182.5L1181.1 1181.2L1182.6 1179.9L1184.1 1178.6L1185.6 1177.3L1187.1 1175.9L1188.6 1174.6L1190.1 1173.2L1191.5 1171.9L1193 1170.5L1194.5 1169.1L1195.9 1167.7L1197.4 1166.4L1198.8 1165L1200.3 1163.6L1201.7 1162.2L1203.1 1160.8L1204.5 1159.3L1206 1157.9L1207.4 1156.5L1208.8 1155L1210.2 1153.6L1211.6 1152.2L1212.9 1150.7L1214.3 1149.3L1215.7 1147.8L1217 1146.3L1218.4 1144.8L1219.7 1143.4L1221.1 1141.9L1222.4 1140.4L1223.7 1138.9L1225 1137.4L1226.4 1135.8L1227.7 1134.3L1229 1132.8L1230.2 1131.3L1231.5 1129.7L1232.8 1128.2L1234.1 1126.6L1235.4 1125.1L1236.6 1123.5L1237.9 1122L1239.1 1120.4L1240.4 1118.9L1241.6 1117.3L1242.9 1115.7L1244.1 1114.1L1245.3 1112.6L1246.6 1111L1247.8 1109.4L1249 1107.8L1250.3 1106.2L1251.5 1104.7L1252.7 1103.1L1253.9 1101.5L1255.1 1099.9L1256.3 1098.3L1257.5 1096.7L1258.7 1095.1L1259.9 1093.5L1261.1 1091.9L1262.3 1090.3L1263.5 1088.7L1264.7 1087.1L1265.9 1085.5L1267.1 1083.8L1268.3 1082.2L1269.5 1080.6L1270.6 1079L1271.8 1077.4L1273 1075.8L1274.2 1074.2L1275.3 1072.6L1276.5 1070.9L1277.7 1069.3L1278.8 1067.7L1280 1066L1281.1 1064.4L1282.2 1062.8L1283.4 1061.1L1284.5 1059.5L1285.6 1057.8L1286.7 1056.2L1287.8 1054.5L1288.9 1052.8L1290 1051.1L1291 1049.5L1292.1 1047.8L1293.2 1046.1L1294.2 1044.4L1295.3 1042.7L1296.3 1041L1297.3 1039.3L1298.4 1037.6L1299.4 1035.9L1300.4 1034.1L1301.4 1032.4L1302.4 1030.7L1303.4 1028.9L1304.4 1027.2L1305.4 1025.5L1306.3 1023.7L1307.3 1022L1308.3 1020.2L1309.3 1018.5L1310.2 1016.7L1311.2 1015L1312.2 1013.2L1313.1 1011.5L1314.1 1009.7L1315 1008L1316 1006.2L1316.9 1004.4L1317.9 1002.7L1318.8 1000.9L1319.8 999.1L1320.7 997.4L1321.7 995.6L1322.6 993.8L1323.6 992.1L1324.5 990.3L1325.5 988.6L1326.4 986.8L1327.4 985L1328.4 983.3L1329.3 981.5L1330.3 979.8L1331.3 978L1332.2 976.3L1333.2 974.5L1334.2 972.8L1335.2 971L1336.2 969.3L1337.2 967.6L1338.2 965.8L1339.2 964.1L1340.3 962.4L1341.3 960.7L1342.3 958.9L1343.4 957.2L1344.4 955.5L1345.5 953.8L1346.5 952.1L1347.6 950.4L1348.7 948.8L1349.8 947.1L1350.9 945.4L1352 943.7L1353.2 942.1L1354.3 940.4L1355.4 938.8L1356.6 937.1L1357.7 935.5L1358.9 933.8L1360 932.2L1361.2 930.6L1362.4 929L1363.6 927.3L1364.8 925.7L1366 924.1L1367.2 922.5L1368.4 920.9L1369.6 919.3L1370.8 917.8L1372.1 916.2L1373.3 914.6L1374.5 913L1375.8 911.5L1377 909.9L1378.3 908.3L1379.5 906.8L1380.8 905.3L1382.1 903.7L1383.4 902.2L1384.7 900.7L1386 899.2L1387.3 897.7L1388.6 896.2L1390 894.8L1391.3 893.3L1392.7 891.9L1394.1 890.5L1395.4 889.1L1396.8 887.7L1398.3 886.3L1399.7 884.9L1401.1 883.6L1402.6 882.3L1404.1 881L1405.5 879.7L1407 878.4L1408.6 877.2L1410.1 876L1411.7 874.8L1413.2 873.6L1414.8 872.5L1416.4 871.3L1418 870.2L1419.7 869.2L1421.3 868.1L1423 867.1L1424.7 866L1426.4 865.1L1428.1 864.1L1429.8 863.1L1431.5 862.2L1433.3 861.3L1435 860.4L1436.8 859.5L1438.6 858.6L1440.4 857.8L1442.2 857L1444 856.1L1445.8 855.3L1447.6 854.5L1449.5 853.8L1451.3 853L1453.2 852.3L1455 851.5L1456.9 850.8L1458.8 850.1L1460.6 849.3L1462.5 848.6L1464.4 847.9L1466.3 847.2L1468.2 846.5L1470.1 845.8L1471.9 845.2L1473.8 844.5L1475.7 843.8L1477.6 843.1L1479.5 842.4L1481.4 841.7L1483.2 841L1485.1 840.2L1487 839.5L1488.8 838.8L1490.7 838L1492.6 837.3L1494.4 836.5L1496.2 835.7L1498.1 834.9L1499.9 834.1L1501.7 833.3L1503.5 832.4L1505.3 831.6L1507.1 830.7L1508.9 829.8L1510.6 828.9L1512.4 827.9L1514.1 827L1515.9 826L1517.6 825L1519.3 824L1521 823L1522.7 822L1524.3 820.9L1526 819.8L1527.6 818.7L1529.3 817.6L1530.9 816.4L1532.5 815.3L1534.1 814.1L1535.6 812.9L1537.2 811.7L1538.7 810.4L1540.3 809.2L1541.8 807.9L1543.3 806.6L1544.7 805.3L1546.2 804L1547.7 802.6L1549.1 801.2L1550.5 799.9L1551.9 798.5L1553.3 797.1L1554.7 795.6L1556 794.2L1557.4 792.7L1558.7 791.2L1560 789.7L1561.3 788.2L1562.6 786.7L1563.9 785.2L1565.2 783.6L1566.4 782.1L1567.6 780.5L1568.8 778.9L1570.1 777.3L1571.2 775.7L1572.4 774.1L1573.6 772.5L1574.7 770.9L1575.9 769.2L1577 767.6L1578.1 765.9L1579.2 764.2L1580.3 762.5L1581.4 760.9L1582.5 759.2L1583.6 757.5L1584.6 755.8L1585.7 754L1586.7 752.3L1587.7 750.6L1588.7 748.9L1589.8 747.1L1590.8 745.4L1591.7 743.6L1592.7 741.9L1593.7 740.1L1594.7 738.4L1595.7 736.6L1596.6 734.8L1597.6 733.1L1598.5 731.3L1599.5 729.5L1600.4 727.7L1601.3 726L1602.3 724.2L1603.2 722.4L1604.1 720.6L1605 718.8L1605.9 717L1606.8 715.2L1607.7 713.4L1608.6 711.7L1609.5 709.9L1610.4 708.1L1611.3 706.3L1612.2 704.5L1613.1 702.7L1614 700.9L1614.9 699.1L1615.7 697.3L1616.6 695.5L1617.5 693.7L1618.4 691.8L1619.3 690L1620.1 688.2L1621 686.4L1621.9 684.6L1622.7 682.8L1623.6 681L1624.4 679.2L1625.3 677.4L1626.1 675.6L1627 673.8L1627.8 671.9L1628.7 670.1L1629.5 668.3L1630.4 666.5L1631.2 664.7L1632 662.8L1632.9 661L1633.7 659.2L1634.5 657.4L1635.3 655.5L1636.1 653.7L1636.9 651.9L1637.7 650.1L1638.5 648.2L1639.3 646.4L1640.1 644.6L1640.9 642.7L1641.7 640.9L1642.5 639L1643.3 637.2L1644 635.3L1644.8 633.5L1645.6 631.7L1646.3 629.8L1647.1 627.9L1647.8 626.1L1648.6 624.2L1649.3 622.4L1650.1 620.5L1650.8 618.7L1651.6 616.8L1652.3 614.9L1653 613.1L1653.7 611.2L1654.5 609.4L1655.2 607.5L1655.9 605.6L1656.6 603.8L1657.4 601.9L1658.1 600L1658.8 598.2L1659.5 596.3L1660.2 594.4L1660.9 592.5L1661.6 590.7L1662.3 588.8L1663 586.9L1663.8 585.1L1664.5 583.2L1665.2 581.3L1665.9 579.4L1666.6 577.6L1667.3 575.7L1668 573.8L1668.7 571.9L1669.4 570.1L1670.1 568.2L1670.8 566.3L1671.5 564.4L1672.2 562.6L1672.9 560.7L1673.6 558.8L1674.3 556.9L1675 555.1L1675.7 553.2L1676.4 551.3L1677.1 549.4L1677.8 547.6L1678.5 545.7L1679.2 543.8L1679.9 541.9L1680.6 540.1L1681.3 538.2L1682 536.3L1682.7 534.5L1683.5 532.6L1684.2 530.7L1684.9 528.8L1685.6 527L1686.3 525.1L1687 523.2L1687.7 521.4L1688.4 519.5L1689.1 517.6L1689.9 515.8L1690.6 513.9L1691.3 512L1692 510.1L1692.7 508.3L1693.4 506.4L1694.1 504.5L1694.8 502.7L1695.6 500.8L1696.3 498.9L1697 497.1L1697.7 495.2L1698.4 493.3L1699.1 491.5L1699.8 489.6L1700.5 487.7L1701.2 485.9L1701.9 484L1702.7 482.1L1703.4 480.2L1704.1 478.4L1704.8 476.5L1705.5 474.6L1706.2 472.8L1706.9 470.9L1707.6 469L1708.4 467.2L1709.1 465.3L1709.8 463.5L1710.5 461.6L1711.2 459.7L1712 457.9L1712.7 456L1713.4 454.2L1714.1 452.3L1714.9 450.4L1715.6 448.6L1716.3 446.7L1717.1 444.9L1717.8 443L1718.6 441.2L1719.3 439.3L1720 437.5L1720.8 435.6L1721.5 433.8L1722.3 431.9L1723 430L1723.8 428.2L1724.5 426.3L1725.3 424.5L1726 422.6L1726.7 420.8L1727.5 418.9L1728.2 417L1729 415.2L1729.7 413.3L1730.4 411.5L1731.1 409.6L1731.9 407.7L1732.6 405.9L1733.3 404L1734 402.1L1734.8 400.2L1735.5 398.4L1736.2 396.5L1736.9 394.6L1737.6 392.7L1738.3 390.8L1739 388.9L1739.7 387L1740.4 385.1L1741.1 383.2L1741.8 381.3L1742.4 379.4L1743.1 377.5L1743.8 375.6L1744.5 373.7L1745.2 371.8L1745.9 369.9L1746.6 368L1747.3 366L1748 364.1L1748.7 362.2L1749.4 360.3L1750.1 358.4L1750.9 356.5L1751.6 354.5L1752.3 352.6L1753.1 350.7L1753.8 348.8L1754.6 346.9L1755.4 344.9L1756.1 343L1756.9 341.1L1757.7 339.2L1758.5 337.3L1759.3 335.4L1760.2 333.5L1761 331.6L1761.9 329.7L1762.8 327.9L1763.7 326L1764.6 324.2L1765.5 322.3L1766.5 320.5L1767.4 318.7L1768.4 316.9L1769.4 315.1L1770.5 313.3L1771.5 311.6L1772.6 309.9L1773.7 308.2L1774.9 306.5L1776 304.9L1777.2 303.3L1778.5 301.7L1779.7 300.2L1781 298.7L1782.4 297.3L1783.8 295.9L1785.2 294.5L1786.6 293.2L1788.1 292L1789.6 290.8L1791.2 289.7L1792.8 288.7L1794.4 287.7L1796.1 286.9L1797.8 286.1L1799.6 285.5L1801.4 284.9L1803.1 284.5L1804.9 284.3L1806.7 284.1L1808.5 284.2L1810.3 284.3L1812.1 284.6L1813.9 285.1L1815.6 285.6L1817.2 286.4L1818.9 287.2L1820.5 288.1L1822 289.2L1823.5 290.3L1824.9 291.5L1826.3 292.9L1827.6 294.2L1828.8 295.7L1830.1 297.1L1831.2 298.7L1832.3 300.3L1833.4 301.9L1834.4 303.5L1835.3 305.2L1836.2 307L1837.1 308.7L1838 310.5L1838.8 312.3L1839.6 314.2L1840.3 316.1L1841 317.9L1841.7 319.8L1842.4 321.8L1843.1 323.7L1843.7 325.7L1844.3 327.6L1844.9 329.6L1845.5 331.6L1846.1 333.6L1846.6 335.6L1847.2 337.6L1847.7 339.6L1848.2 341.6L1848.7 343.6L1849.3 345.7L1849.8 347.7L1850.3 349.7L1850.8 351.7L1851.3 353.7L1851.8 355.8L1852.2 357.8L1852.7 359.8L1853.2 361.8L1853.7 363.8L1854.2 365.9L1854.7 367.9L1855.1 369.9L1855.6 371.9L1856.1 373.9L1856.6 375.9L1857.1 377.9L1857.6 379.9L1858.1 381.9L1858.5 383.9L1859 385.8L1859.5 387.8L1860 389.8L1860.5 391.8L1860.9 393.8L1861.4 395.7L1861.9 397.7L1862.4 399.7L1862.8 401.7L1863.3 403.6L1863.8 405.6L1864.2 407.6L1864.7 409.5L1865.1 411.5L1865.6 413.4L1866 415.4L1866.5 417.4L1866.9 419.3L1867.3 421.3L1867.8 423.3L1868.2 425.2L1868.6 427.2L1869 429.1L1869.4 431.1L1869.9 433.1L1870.3 435L1870.7 437L1871.1 438.9L1871.5 440.9L1871.9 442.9L1872.3 444.8L1872.7 446.8L1873 448.7L1873.4 450.7L1873.8 452.7L1874.2 454.6L1874.6 456.6L1874.9 458.5L1875.3 460.5L1875.7 462.5L1876 464.4L1876.4 466.4L1876.8 468.4L1877.1 470.3L1877.5 472.3L1877.8 474.3L1878.2 476.2L1878.5 478.2L1878.9 480.1L1879.2 482.1L1879.6 484.1L1879.9 486.1L1880.3 488L1880.6 490L1881 492L1881.3 493.9L1881.6 495.9L1882 497.9L1882.3 499.8L1882.7 501.8L1883 503.8L1883.3 505.7L1883.7 507.7L1884 509.7L1884.4 511.7L1884.7 513.6L1885 515.6L1885.4 517.6L1885.7 519.5L1886 521.5L1886.4 523.5L1886.7 525.5L1887 527.4L1887.4 529.4L1887.7 531.4L1888 533.3L1888.4 535.3L1888.7 537.3L1889 539.3L1889.3 541.2L1889.7 543.2L1890 545.2L1890.3 547.2L1890.6 549.1L1891 551.1L1891.3 553.1L1891.6 555.1L1891.9 557L1892.2 559L1892.5 561L1892.9 563L1893.2 564.9L1893.5 566.9L1893.8 568.9L1894.1 570.9L1894.4 572.9L1894.7 574.8L1895.1 576.8L1895.4 578.8L1895.7 580.8L1896 582.7L1896.3 584.7L1896.6 586.7L1896.9 588.7L1897.2 590.6L1897.5 592.6L1897.9 594.6L1898.2 596.6L1898.5 598.6L1898.8 600.5L1899.1 602.5L1899.4 604.5L1899.7 606.5L1900 608.5L1900.3 610.4L1900.6 612.4L1900.9 614.4L1901.2 616.4L1901.5 618.3L1901.9 620.3L1902.2 622.3L1902.5 624.3L1902.8 626.3L1903.1 628.2L1903.4 630.2L1903.7 632.2L1904 634.2L1904.3 636.1L1904.6 638.1L1904.9 640.1L1905.2 642.1L1905.5 644.1L1905.8 646L1906.1 648L1906.4 650L1906.7 652L1907 654L1907.3 655.9L1907.6 657.9L1907.9 659.9L1908.2 661.9L1908.5 663.9L1908.8 665.8L1909.1 667.8L1909.4 669.8L1909.7 671.8L1910 673.8L1910.3 675.7L1910.6 677.7L1910.9 679.7L1911.2 681.7L1911.5 683.7L1911.7 685.6L1912 687.6L1912.3 689.6L1912.6 691.6L1912.9 693.6L1913.2 695.5L1913.5 697.5L1913.8 699.5L1914.1 701.5L1914.4 703.5L1914.6 705.4L1914.9 707.4L1915.2 709.4L1915.5 711.4L1915.8 713.4L1916.1 715.3L1916.4 717.3L1916.6 719.3L1916.9 721.3L1917.2 723.3L1917.5 725.3L1917.8 727.2L1918.1 729.2L1918.3 731.2L1918.6 733.2L1918.9 735.2L1919.2 737.1L1919.5 739.1L1919.7 741.1L1920 743.1L1920.3 745.1L1920.6 747.1L1920.9 749L1921.1 751L1921.4 753L1921.7 755L1922 757L1922.3 758.9L1922.5 760.9L1922.8 762.9L1923.1 764.9L1923.4 766.9L1923.7 768.9L1923.9 770.8L1924.2 772.8L1924.5 774.8L1924.8 776.8L1925.1 778.8L1925.3 780.7L1925.6 782.7L1925.9 784.7L1926.2 786.7L1926.5 788.7L1926.7 790.7L1927 792.6L1927.3 794.6L1927.6 796.6L1927.9 798.6L1928.1 800.6L1928.4 802.5L1928.7 804.5L1929 806.5L1929.3 808.5L1929.5 810.5L1929.8 812.5L1930.1 814.4L1930.4 816.4L1930.6 818.4L1930.9 820.4L1931.2 822.4L1931.5 824.3L1931.7 826.3L1932 828.3L1932.3 830.3L1932.5 832.3L1932.8 834.3L1933.1 836.2L1933.4 838.2L1933.6 840.2L1933.9 842.2L1934.2 844.2L1934.5 846.2L1934.7 848.1L1935 850.1L1935.3 852.1L1935.6 854.1L1935.9 856.1L1936.1 858L1936.4 860L1936.7 862L1937 864L1937.3 866L1937.6 868L1937.9 869.9L1938.2 871.9L1938.5 873.9L1938.7 875.9L1939 877.8L1939.3 879.8L1939.6 881.8L1939.9 883.8L1940.2 885.8L1940.5 887.7L1940.9 889.7L1941.2 891.7L1941.5 893.7L1941.8 895.7L1942.1 897.6L1942.4 899.6L1942.7 901.6L1943 903.6L1943.3 905.5L1943.6 907.5L1943.9 909.5L1944.2 911.5L1944.5 913.5L1944.8 915.4L1945.2 917.4L1945.5 919.4L1945.8 921.4L1946.1 923.3L1946.4 925.3L1946.7 927.3L1947 929.3L1947.3 931.3L1947.6 933.2L1947.9 935.2L1948.2 937.2L1948.5 939.2L1948.9 941.1L1949.2 943.1L1949.5 945.1L1949.8 947.1L1950.1 949.1L1950.4 951L1950.7 953L1951 955L1951.3 957L1951.6 958.9L1952 960.9L1952.3 962.9L1952.6 964.9L1952.9 966.8L1953.2 968.8L1953.5 970.8L1953.8 972.8L1954.1 974.8L1954.4 976.7L1954.7 978.7L1955.1 980.7L1955.4 982.7L1955.7 984.6L1956 986.6L1956.3 988.6L1956.6 990.6L1956.9 992.5L1957.2 994.5L1957.5 996.5L1957.8 998.5L1958.1 1000.4L1958.4 1002.4L1958.7 1004.4L1959.1 1006.4L1959.4 1008.4L1959.7 1010.3L1960 1012.3L1960.3 1014.3L1960.6 1016.3L1960.9 1018.2L1961.1 1020.2L1961.4 1022.2L1961.7 1024.2L1962 1026.1L1962.3 1028.1L1962.6 1030.1L1962.9 1032.1L1963.2 1034.1L1963.4 1036L1963.7 1038L1964 1040L1964.5 1100L1964.5 1235L1967.6 1238L1967.6 1281.2L1968.3 1283.1L1969 1285L1969.8 1286.9L1970.5 1288.9L1971.2 1290.8L1972 1292.7L1972.7 1294.6L1973.4 1296.5L1974.2 1298.4L1974.9 1300.3L1975.7 1302.2L1976.5 1304.1L1977.3 1305.9L1978.1 1307.8L1978.8 1309.7L1979.6 1311.6L1980.5 1313.4L1981.3 1315.3L1982.1 1317.2L1983 1319L1983.8 1320.9L1984.7 1322.7L1985.6 1324.5L1986.4 1326.4L1987.3 1328.2L1988.3 1330L1989.2 1331.8L1990.1 1333.6L1991.1 1335.4L1992 1337.1L1993 1338.9L1994 1340.7L1995 1342.4L1996 1344.2L1997.1 1345.9L1998.1 1347.6L1999.2 1349.3L2000.3 1351L2001.4 1352.7L2002.5 1354.4L2003.6 1356L2004.8 1357.7L2006 1359.3L2007.1 1360.9L2008.4 1362.5L2009.6 1364.1L2010.8 1365.7L2012.1 1367.2L2013.3 1368.8L2014.6 1370.3L2015.9 1371.8L2017.2 1373.4L2018.6 1374.9L2019.9 1376.3L2021.3 1377.8L2022.6 1379.3L2024 1380.7L2025.4 1382.1L2026.9 1383.6L2028.3 1385L2029.7 1386.4L2031.2 1387.8L2032.6 1389.2L2034.1 1390.5L2035.6 1391.9L2037 1393.3L2038.5 1394.6L2040 1396"/>
<path stroke="#00007e" d="M199 1479.1L201 1479.2L203 1479.2L205 1479.3L207 1479.3L209 1479.4L211 1479.5L213 1479.5L215 1479.6L217 1479.6L219 1479.7L221 1479.8L223 1479.8L225 1479.9L227 1479.9L229 1480L231 1480L233 1480.1L235 1480.2L237 1480.2L239 1480.3L241 1480.3L243 1480.4L245 1480.4L247 1480.5L249 1480.5L251.1 1480.6L253.1 1480.6L255.1 1480.7L257.1 1480.7L259.1 1480.7L261.1 1480.8L263.1 1480.8L265.1 1480.9L267.1 1480.9L269.1 1480.9L271.1 1481L273.1 1481L275.1 1481.1L277.1 1481.1L279.1 1481.1L281.1 1481.1L283.1 1481.2L285.1 1481.2L287.1 1481.2L289.1 1481.3L291.1 1481.3L293.1 1481.3L295.1 1481.3L297.1 1481.4L299.1 1481.4L301.1 1481.4L303.1 1481.4L305.1 1481.4L307.1 1481.5L309.1 1481.5L311.1 1481.5L313.1 1481.5L315.1 1481.5L317.1 1481.5L319.1 1481.5L321.1 1481.6L323.1 1481.6L325.1 1481.6L327.2 1481.6L329.2 1481.6L331.2 1481.6L333.2 1481.6L335.2 1481.6L337.2 1481.6L339.2 1481.6L341.2 1481.6L343.2 1481.6L345.2 1481.6L347.2 1481.6L349.2 1481.6L351.2 1481.6L353.2 1481.6L355.2 1481.6L357.2 1481.6L359.2 1481.5L361.2 1481.5L363.2 1481.5L365.2 1481.5L367.2 1481.5L369.2 1481.5L371.2 1481.5L373.2 1481.5L375.2 1481.4L377.2 1481.4L379.2 1481.4L381.2 1481.4L383.2 1481.4L385.2 1481.3L387.2 1481.3L389.2 1481.3L391.2 1481.3L393.2 1481.3L395.2 1481.2L397.2 1481.2L399.2 1481.2L401.3 1481.2L403.3 1481.1L405.3 1481.1L407.3 1481.1L409.3 1481.1L411.3 1481L413.3 1481L415.3 1481L417.3 1481L419.3 1480.9L421.3 1480.9L423.3 1480.9L425.3 1480.8L427.3 1480.8L429.3 1480.8L431.3 1480.7L433.3 1480.7L435.3 1480.7L437.3 1480.7L439.3 1480.6L441.3 1480.6L443.3 1480.6L445.3 1480.5L447.3 1480.5L449.3 1480.5L451.3 1480.4L453.3 1480.4L455.3 1480.4L457.3 1480.3L459.3 1480.3L461.3 1480.3L463.3 1480.2L465.3 1480.2L467.3 1480.2L469.3 1480.1L471.3 1480.1L473.3 1480.1L475.3 1480L477.4 1480L479.4 1480L481.4 1479.9L483.4 1479.9L485.4 1479.9L487.4 1479.9L489.4 1479.8L491.4 1479.8L493.4 1479.8L495.4 1479.7L497.4 1479.7L499.4 1479.7L501.4 1479.7L503.4 1479.6L505.4 1479.6L507.4 1479.6L509.4 1479.6L511.4 1479.5L513.4 1479.5L515.4 1479.5L517.4 1479.5L519.4 1479.5L521.4 1479.4L523.4 1479.4L525.4 1479.4L527.4 1479.4L529.4 1479.4L531.4 1479.4L533.4 1479.4L535.4 1479.4L537.4 1479.4L539.4 1479.4L541.4 1479.4L543.4 1479.5L545.4 1479.6L547.4 1479.6L549.4 1479.7L551.4 1479.8L553.4 1480L555.5 1480.1L557.5 1480.2L559.5 1480.4L561.5 1480.6L563.5 1480.7L565.5 1480.9L567.5 1481.1L569.5 1481.2L571.5 1481.4L573.5 1481.5L575.5 1481.6L577.5 1481.7L579.5 1481.8L581.5 1481.9L583.5 1481.9L585.5 1481.9L587.5 1481.9L589.5 1481.8L591.5 1481.7L593.5 1481.5L595.4 1481.3L597.4 1481.1L599.3 1480.7L601.3 1480.3L603.2 1479.9L605.1 1479.4L607 1478.8L608.9 1478.2L610.8 1477.5L612.6 1476.8L614.5 1476.1L616.3 1475.3L618.2 1474.5L620 1473.7L621.8 1472.9L623.7 1472L625.5 1471.2L627.3 1470.3L629.1 1469.5L631 1468.6L632.8 1467.7L634.6 1466.9L636.4 1466L638.2 1465.1L640.1 1464.3L641.9 1463.4L643.7 1462.6L645.6 1461.8L647.4 1461L649.2 1460.2L651.1 1459.4L653 1458.6L654.8 1457.8L656.7 1457.1L658.6 1456.4L660.5 1455.7L662.4 1455L664.3 1454.4L666.2 1453.8L668.1 1453.3L670.1 1452.8L672 1452.3L673.9 1451.9L675.9 1451.6L677.8 1451.3L679.8 1451L681.8 1450.8L683.7 1450.7L685.7 1450.6L687.7 1450.6L689.7 1450.6L691.7 1450.7L693.7 1450.8L695.7 1451L697.6 1451.1L699.7 1451.3L701.7 1451.5L703.7 1451.7L705.7 1451.9L707.7 1452.2L709.7 1452.4L711.7 1452.6L713.7 1452.8L715.7 1453L717.7 1453.2L719.7 1453.4L721.7 1453.5L723.7 1453.6L725.7 1453.7L727.7 1453.8L729.7 1453.8L731.7 1453.9L733.7 1453.8L735.7 1453.8L737.7 1453.7L739.7 1453.5L741.7 1453.4L743.7 1453.2L745.7 1452.9L747.6 1452.7L749.6 1452.4L751.6 1452L753.5 1451.6L755.5 1451.2L757.4 1450.8L759.4 1450.3L761.3 1449.8L763.2 1449.3L765.2 1448.7L767.1 1448.2L769 1447.6L770.9 1447L772.9 1446.4L774.8 1445.8L776.7 1445.2L778.6 1444.7L780.5 1444.1L782.5 1443.5L784.4 1443L786.3 1442.4L788.2 1441.9L790.2 1441.4L792.1 1440.9L794.1 1440.4L796 1439.9L798 1439.5L799.9 1439L801.9 1438.6L803.8 1438.1L805.8 1437.7L807.8 1437.3L809.7 1436.9L811.7 1436.5L813.6 1436.1L815.6 1435.7L817.6 1435.4L819.6 1435L821.5 1434.7L823.5 1434.3L825.5 1434L827.5 1433.7L829.4 1433.4L831.4 1433.1L833.4 1432.9L835.4 1432.6L837.4 1432.4L839.4 1432.2L841.4 1432L843.4 1431.8L845.3 1431.7L847.3 1431.5L849.3 1431.4L851.3 1431.3L853.3 1431.2L855.3 1431.2L857.3 1431.1L859.3 1431L861.3 1431L863.3 1431L865.3 1430.9L867.4 1430.9L869.4 1430.9L871.4 1430.9L873.4 1430.9L875.4 1430.9L877.4 1430.9L879.4 1430.9L881.4 1430.9L883.4 1430.9L885.4 1430.9L887.4 1430.9L889.4 1430.9L891.4 1430.9L893.4 1430.9L895.4 1430.9L897.4 1430.9L899.4 1430.9L901.4 1430.8L903.4 1430.8L905.4 1430.8L907.4 1430.7L909.5 1430.7L911.5 1430.7L913.5 1430.6L915.5 1430.6L917.5 1430.5L919.5 1430.5L921.5 1430.4L923.5 1430.4L925.5 1430.3L927.5 1430.2L929.5 1430.1L931.5 1430.1L933.5 1430L935.5 1429.9L937.5 1429.8L939.5 1429.7L941.5 1429.6L943.5 1429.5L945.5 1429.4L947.5 1429.3L949.5 1429.1L951.5 1429L953.5 1428.9L955.5 1428.7L957.5 1428.5L959.5 1428.4L961.5 1428.2L963.4 1428L965.4 1427.7L967.4 1427.5L969.4 1427.3L971.4 1427L973.4 1426.7L975.4 1426.4L977.3 1426.1L979.3 1425.8L981.3 1425.5L983.3 1425.2L985.2 1424.9L987.2 1424.5L989.2 1424.2L991.2 1423.8L993.1 1423.5L995.1 1423.1L997.1 1422.8L999.1 1422.4L1001 1422.1L1003 1421.7L1005 1421.3L1006.9 1421L1008.9 1420.6L1010.9 1420.3L1012.9 1420L1014.8 1419.6L1016.8 1419.3L1018.8 1418.9L1020.8 1418.6L1022.7 1418.3L1024.7 1418L1026.7 1417.6L1028.7 1417.3L1030.6 1417L1032.6 1416.7L1034.6 1416.4L1036.6 1416.1L1038.6 1415.8L1040.6 1415.6L1042.5 1415.3L1044.5 1415L1046.5 1414.7L1048.5 1414.5L1050.5 1414.2L1052.5 1413.9L1054.5 1413.6L1056.4 1413.3L1058.4 1413L1060.4 1412.7L1062.4 1412.4L1064.3 1412L1066.3 1411.7L1068.3 1411.3L1070.2 1410.9L1072.2 1410.5L1074.1 1410L1076.1 1409.6L1078 1409.1L1079.9 1408.6L1081.9 1408.1L1083.8 1407.5L1085.7 1407L1087.7 1406.4L1089.6 1405.9L1091.5 1405.3L1093.4 1404.7L1095.3 1404.1L1097.2 1403.5L1099.1 1402.9L1101.1 1402.2L1103 1401.6L1104.9 1401L1106.8 1400.3L1108.7 1399.7L1110.6 1399L1112.4 1398.3L1114.3 1397.7L1116.2 1397L1118.1 1396.3L1120 1395.6L1121.9 1394.9L1123.7 1394.2L1125.6 1393.4L1127.5 1392.7L1129.3 1392L1131.2 1391.2L1133.1 1390.5L1134.9 1389.7L1136.8 1389L1138.6 1388.2L1140.5 1387.4L1142.3 1386.6L1144.1 1385.8L1145.9 1385L1147.8 1384.2L1149.6 1383.3L1151.4 1382.5L1153.2 1381.6L1155 1380.8L1156.8 1379.9L1158.6 1379L1160.4 1378.1L1162.2 1377.2L1163.9 1376.3L1165.7 1375.4L1167.5 1374.4L1169.2 1373.5L1170.9 1372.5L1172.7 1371.5L1174.4 1370.5L1176.1 1369.5L1177.8 1368.5L1179.6 1367.5L1181.2 1366.4L1182.9 1365.4L1184.6 1364.3L1186.3 1363.2L1188 1362.1L1189.6 1361L1191.3 1359.9L1192.9 1358.8L1194.6 1357.7L1196.2 1356.5L1197.8 1355.4L1199.4 1354.2L1201.1 1353L1202.7 1351.8L1204.3 1350.6L1205.8 1349.4L1207.4 1348.2L1209 1347L1210.6 1345.7L1212.2 1344.5L1213.7 1343.3L1215.3 1342L1216.8 1340.7L1218.4 1339.5L1219.9 1338.2L1221.4 1336.9L1223 1335.6L1224.5 1334.3L1226 1333L1227.5 1331.7L1229 1330.3L1230.5 1329L1232 1327.7L1233.5 1326.3L1235 1325L1236.4 1323.6L1237.9 1322.3L1239.4 1320.9L1240.8 1319.5L1242.3 1318.2L1243.8 1316.8L1245.2 1315.4L1246.7 1314L1248.1 1312.6L1249.5 1311.2L1251 1309.8L1252.4 1308.4L1253.8 1307L1255.2 1305.6L1256.6 1304.1L1258.1 1302.7L1259.5 1301.3L1260.9 1299.8L1262.3 1298.4L1263.7 1297L1265 1295.5L1266.4 1294.1L1267.8 1292.6L1269.2 1291.1L1270.6 1289.7L1272 1288.2L1273.3 1286.8L1274.7 1285.3L1276.1 1283.8L1277.4 1282.3L1278.8 1280.9L1280.1 1279.4L1281.5 1277.9L1282.8 1276.4L1284.2 1274.9L1285.5 1273.4L1286.9 1272L1288.2 1270.5L1289.5 1269L1290.9 1267.5L1292.2 1265.9L1293.5 1264.4L1294.8 1262.9L1296.2 1261.4L1297.5 1259.9L1298.8 1258.4L1300.1 1256.9L1301.4 1255.4L1302.7 1253.8L1304 1252.3L1305.3 1250.8L1306.6 1249.2L1307.9 1247.7L1309.2 1246.2L1310.5 1244.6L1311.8 1243.1L1313.1 1241.6L1314.4 1240L1315.7 1238.5L1317 1236.9L1318.2 1235.4L1319.5 1233.8L1320.8 1232.3L1322.1 1230.7L1323.4 1229.2L1324.6 1227.6L1325.9 1226.1L1327.2 1224.5L1328.5 1223L1329.8 1221.4L1331.1 1219.9L1332.3 1218.4L1333.6 1216.8L1334.9 1215.3L1336.2 1213.7L1337.5 1212.2L1338.8 1210.6L1340.1 1209.1L1341.4 1207.6L1342.7 1206L1344 1204.5L1345.3 1203L1346.6 1201.5L1347.9 1200L1349.2 1198.4L1350.6 1196.9L1351.9 1195.4L1353.2 1194L1354.6 1192.5L1356 1191L1357.3 1189.5L1358.7 1188.1L1360.1 1186.6L1361.5 1185.2L1362.9 1183.8L1364.3 1182.3L1365.7 1180.9L1367.1 1179.5L1368.5 1178.1L1370 1176.8L1371.4 1175.4L1372.9 1174L1374.4 1172.7L1375.8 1171.4L1377.3 1170.1L1378.9 1168.8L1380.4 1167.5L1381.9 1166.2L1383.4 1165L1385 1163.7L1386.6 1162.5L1388.1 1161.3L1389.7 1160.1L1391.3 1158.9L1392.9 1157.8L1394.6 1156.6L1396.2 1155.5L1397.8 1154.4L1399.5 1153.3L1401.2 1152.2L1402.8 1151.1L1404.5 1150.1L1406.2 1149.1L1407.9 1148.1L1409.7 1147.1L1411.4 1146.1L1413.1 1145.1L1414.9 1144.2L1416.6 1143.3L1418.4 1142.4L1420.2 1141.5L1422 1140.6L1423.8 1139.8L1425.6 1138.9L1427.4 1138.1L1429.2 1137.3L1431 1136.5L1432.9 1135.7L1434.7 1135L1436.6 1134.2L1438.4 1133.5L1440.3 1132.8L1442.2 1132.1L1444 1131.4L1445.9 1130.7L1447.8 1130.1L1449.7 1129.4L1451.6 1128.8L1453.5 1128.2L1455.4 1127.6L1457.3 1127L1459.3 1126.4L1461.2 1125.8L1463.1 1125.2L1465 1124.6L1467 1124.1L1468.9 1123.5L1470.8 1123L1472.8 1122.4L1474.7 1121.9L1476.6 1121.3L1478.6 1120.8L1480.5 1120.2L1482.4 1119.7L1484.4 1119.1L1486.3 1118.5L1488.2 1118L1490.1 1117.4L1492 1116.8L1494 1116.2L1495.9 1115.6L1497.8 1115L1499.7 1114.4L1501.6 1113.7L1503.5 1113.1L1505.3 1112.4L1507.2 1111.7L1509.1 1111L1510.9 1110.3L1512.8 1109.6L1514.6 1108.8L1516.5 1108L1518.3 1107.3L1520.1 1106.5L1521.9 1105.6L1523.7 1104.8L1525.5 1103.9L1527.3 1103.1L1529 1102.2L1530.8 1101.2L1532.5 1100.3L1534.3 1099.3L1536 1098.4L1537.7 1097.4L1539.4 1096.3L1541.1 1095.3L1542.8 1094.2L1544.4 1093.2L1546.1 1092.1L1547.7 1090.9L1549.3 1089.8L1551 1088.6L1552.6 1087.5L1554.2 1086.3L1555.7 1085.1L1557.3 1083.8L1558.9 1082.6L1560.4 1081.4L1562 1080.1L1563.5 1078.8L1565 1077.5L1566.5 1076.2L1568 1074.9L1569.5 1073.5L1570.9 1072.2L1572.4 1070.8L1573.9 1069.4L1575.3 1068.1L1576.7 1066.7L1578.2 1065.3L1579.6 1063.8L1581 1062.4L1582.4 1061L1583.8 1059.5L1585.2 1058.1L1586.5 1056.6L1587.9 1055.2L1589.2 1053.7L1590.6 1052.2L1591.9 1050.7L1593.2 1049.2L1594.5 1047.7L1595.8 1046.1L1597.1 1044.6L1598.4 1043.1L1599.6 1041.5L1600.9 1040L1602.1 1038.4L1603.4 1036.8L1604.6 1035.2L1605.8 1033.6L1607 1032L1608.2 1030.4L1609.3 1028.8L1610.5 1027.2L1611.7 1025.6L1612.8 1023.9L1613.9 1022.3L1615.1 1020.6L1616.2 1018.9L1617.3 1017.3L1618.4 1015.6L1619.4 1013.9L1620.5 1012.2L1621.6 1010.5L1622.7 1008.8L1623.7 1007.1L1624.7 1005.4L1625.8 1003.7L1626.8 1002L1627.8 1000.3L1628.9 998.6L1629.9 996.8L1630.9 995.1L1631.9 993.4L1632.9 991.6L1633.9 989.9L1634.9 988.1L1635.8 986.4L1636.8 984.6L1637.8 982.9L1638.8 981.1L1639.7 979.4L1640.7 977.6L1641.6 975.8L1642.6 974.1L1643.6 972.3L1644.5 970.5L1645.5 968.8L1646.4 967L1647.3 965.2L1648.3 963.4L1649.2 961.7L1650.1 959.9L1651.1 958.1L1652 956.3L1652.9 954.5L1653.8 952.8L1654.8 951L1655.7 949.2L1656.6 947.4L1657.5 945.6L1658.4 943.8L1659.3 942.1L1660.2 940.3L1661.2 938.5L1662.1 936.7L1663 934.9L1663.9 933.1L1664.8 931.3L1665.7 929.5L1666.6 927.8L1667.5 926L1668.4 924.2L1669.3 922.4L1670.2 920.6L1671.1 918.8L1672 917L1672.9 915.2L1673.8 913.4L1674.7 911.7L1675.6 909.9L1676.5 908.1L1677.4 906.3L1678.3 904.5L1679.2 902.7L1680.1 900.9L1681 899.1L1681.9 897.4L1682.8 895.6L1683.8 893.8L1684.7 892L1685.6 890.2L1686.5 888.4L1687.4 886.6L1688.3 884.9L1689.2 883.1L1690.1 881.3L1691 879.5L1691.9 877.7L1692.8 876L1693.7 874.2L1694.7 872.4L1695.6 870.6L1696.5 868.8L1697.4 867.1L1698.3 865.3L1699.2 863.5L1700.1 861.7L1701 860L1702 858.2L1702.9 856.4L1703.8 854.6L1704.7 852.8L1705.6 851.1L1706.5 849.3L1707.4 847.5L1708.3 845.7L1709.2 843.9L1710.1 842.1L1711 840.4L1711.9 838.6L1712.8 836.8L1713.7 835L1714.6 833.2L1715.5 831.4L1716.4 829.6L1717.3 827.8L1718.2 826L1719.1 824.2L1720 822.4L1720.8 820.6L1721.7 818.8L1722.6 817L1723.5 815.2L1724.4 813.4L1725.2 811.6L1726.1 809.8L1727 808L1727.9 806.2L1728.7 804.4L1729.6 802.5L1730.5 800.7L1731.4 798.9L1732.3 797.1L1733.1 795.3L1734 793.5L1734.9 791.6L1735.8 789.8L1736.7 788L1737.6 786.2L1738.5 784.3L1739.4 782.5L1740.2 780.7L1741.1 778.9L1742 777L1742.9 775.2L1743.9 773.4L1744.8 771.5L1745.7 769.7L1746.6 767.9L1747.5 766L1748.5 764.2L1749.4 762.4L1750.4 760.6L1751.4 758.8L1752.4 757L1753.4 755.2L1754.4 753.4L1755.4 751.6L1756.4 749.8L1757.5 748L1758.5 746.2L1759.6 744.5L1760.7 742.8L1761.9 741L1763 739.3L1764.2 737.6L1765.3 736L1766.5 734.3L1767.8 732.7L1769 731.1L1770.3 729.5L1771.6 727.9L1772.9 726.4L1774.3 724.9L1775.6 723.5L1777 722.1L1778.5 720.7L1779.9 719.4L1781.4 718.1L1782.9 716.8L1784.5 715.7L1786 714.5L1787.6 713.5L1789.3 712.5L1791 711.6L1792.7 710.7L1794.4 710L1796.2 709.3L1798 708.8L1799.8 708.3L1801.6 708L1803.4 707.7L1805.3 707.6L1807.1 707.7L1808.9 707.8L1810.7 708.1L1812.5 708.5L1814.3 709L1816.1 709.7L1817.8 710.4L1819.5 711.2L1821.1 712.2L1822.7 713.2L1824.3 714.3L1825.8 715.5L1827.3 716.7L1828.8 718L1830.2 719.3L1831.5 720.7L1832.9 722.2L1834.2 723.6L1835.5 725.1L1836.7 726.7L1837.9 728.3L1839.1 729.9L1840.3 731.5L1841.4 733.2L1842.5 734.9L1843.5 736.6L1844.6 738.3L1845.6 740.1L1846.6 741.9L1847.6 743.7L1848.5 745.5L1849.4 747.3L1850.3 749.2L1851.2 751L1852.1 752.9L1852.9 754.8L1853.7 756.6L1854.5 758.5L1855.3 760.4L1856.1 762.3L1856.9 764.2L1857.6 766.2L1858.3 768.1L1859 770L1859.7 772L1860.4 773.9L1861.1 775.8L1861.7 777.8L1862.4 779.7L1863 781.7L1863.6 783.6L1864.2 785.6L1864.8 787.5L1865.4 789.5L1866 791.4L1866.5 793.4L1867.1 795.3L1867.6 797.3L1868.1 799.3L1868.7 801.2L1869.2 803.2L1869.7 805.2L1870.2 807.1L1870.7 809.1L1871.1 811.1L1871.6 813L1872.1 815L1872.5 817L1873 818.9L1873.4 820.9L1873.9 822.8L1874.3 824.8L1874.7 826.8L1875.2 828.7L1875.6 830.7L1876 832.7L1876.5 834.6L1876.9 836.6L1877.3 838.6L1877.7 840.5L1878.1 842.5L1878.5 844.5L1878.9 846.4L1879.3 848.4L1879.8 850.4L1880.2 852.3L1880.6 854.3L1881 856.2L1881.4 858.2L1881.8 860.2L1882.2 862.1L1882.6 864.1L1883 866L1883.5 868L1883.9 870L1884.3 871.9L1884.7 873.9L1885.1 875.8L1885.5 877.8L1885.9 879.8L1886.4 881.7L1886.8 883.7L1887.2 885.6L1887.6 887.6L1888.1 889.5L1888.5 891.5L1888.9 893.4L1889.3 895.4L1889.7 897.4L1890.2 899.3L1890.6 901.3L1891 903.2L1891.4 905.2L1891.9 907.1L1892.3 909.1L1892.7 911L1893.2 913L1893.6 915L1894 916.9L1894.4 918.9L1894.9 920.8L1895.3 922.8L1895.7 924.7L1896.1 926.7L1896.5 928.7L1897 930.6L1897.4 932.6L1897.8 934.5L1898.2 936.5L1898.6 938.4L1899.1 940.4L1899.5 942.4L1899.9 944.3L1900.3 946.3L1900.7 948.2L1901.1 950.2L1901.5 952.2L1901.9 954.1L1902.4 956.1L1902.8 958L1903.2 960L1903.6 962L1904 963.9L1904.4 965.9L1904.8 967.8L1905.2 969.8L1905.6 971.8L1906 973.7L1906.4 975.7L1906.8 977.7L1907.2 979.6L1907.6 981.6L1908 983.5L1908.4 985.5L1908.8 987.5L1909.2 989.4L1909.6 991.4L1909.9 993.4L1910.3 995.3L1910.7 997.3L1911.1 999.3L1911.5 1001.2L1911.9 1003.2L1912.3 1005.1L1912.7 1007.1L1913.1 1009.1L1913.4 1011L1913.8 1013L1914.2 1015L1914.6 1016.9L1915 1018.9L1915.4 1020.9L1915.7 1022.8L1916.1 1024.8L1916.5 1026.8L1916.9 1028.7L1917.3 1030.7L1917.6 1032.7L1918 1034.6L1918.4 1036.6L1918.8 1038.6L1919.1 1040.5L1919.5 1042.5L1919.9 1044.5L1920.2 1046.4L1920.6 1048.4L1921 1050.4L1921.3 1052.3L1921.7 1054.3L1922.1 1056.3L1922.4 1058.3L1922.8 1060.2L1923.1 1062.2L1923.5 1064.2L1923.8 1066.1L1924.2 1068.1L1924.6 1070.1L1924.9 1072L1925.3 1074L1925.6 1076L1926 1077.9L1926.3 1079.9L1926.7 1081.9L1927.1 1083.9L1927.4 1085.8L1927.8 1087.8L1928.2 1089.8L1928.5 1091.7L1928.9 1093.7L1929.3 1095.6L1929.7 1097.6L1930.1 1099.6L1930.4 1101.5L1930.8 1103.5L1931.2 1105.5L1931.6 1107.4L1932 1109.4L1932.5 1111.3L1932.9 1113.3L1933.3 1115.3L1933.7 1117.2L1934.1 1119.2L1934.6 1121.1L1935 1123.1L1935.4 1125L1935.9 1127L1936.3 1128.9L1936.7 1130.9L1937.2 1132.8L1937.6 1134.8L1938.1 1136.7L1938.5 1138.7L1939 1140.6L1939.4 1142.6L1939.9 1144.5L1940.3 1146.5L1940.8 1148.4L1941.2 1150.4L1941.7 1152.3L1942.1 1154.3L1942.6 1156.2L1943 1158.2L1943.5 1160.1L1943.9 1162.1L1944.4 1164L1944.8 1166L1945.3 1168L1945.7 1169.9L1946.1 1171.9L1946.6 1173.8L1947 1175.8L1947.5 1177.7L1947.9 1179.7L1948.3 1181.6L1948.7 1183.6L1949.2 1185.5L1949.6 1187.5L1950 1189.5L1950.4 1191.4L1950.8 1193.4L1951.2 1195.3L1951.7 1197.3L1952.1 1199.3L1952.5 1201.2L1952.9 1203.2L1953.3 1205.1L1953.7 1207.1L1954.1 1209.1L1954.5 1211L1954.9 1213L1955.3 1215L1955.7 1216.9L1956 1218.9L1956.4 1220.9L1956.8 1222.8L1957.2 1224.8L1957.6 1226.7L1958 1228.7L1958.3 1230.7L1958.7 1232.6L1959.1 1234.6L1959.5 1236.6L1959.9 1238.5L1960.2 1240.5L1960.6 1242.5L1961 1244.4L1961.3 1246.4L1961.7 1248.4L1962.1 1250.4L1962.4 1252.3L1962.8 1254.3L1963.2 1256.3L1963.5 1258.2L1963.9 1260.2L1965 1280L1967 1448.5L1974.7 1460.5L1989.1 1484.4L2003 1506"/>
<path stroke="#56087a" d="M199 1327.1L201 1327.4L203 1327.7L204.9 1328L206.9 1328.2L208.9 1328.5L210.9 1328.8L212.9 1329L214.9 1329.3L216.9 1329.6L218.8 1329.8L220.8 1330L222.8 1330.3L224.8 1330.5L226.8 1330.7L228.8 1330.9L230.8 1331.1L232.8 1331.3L234.8 1331.5L236.8 1331.6L238.8 1331.8L240.8 1331.9L242.7 1332L244.7 1332.2L246.7 1332.3L248.7 1332.4L250.7 1332.5L252.7 1332.6L254.7 1332.7L256.7 1332.8L258.7 1332.9L260.7 1332.9L262.7 1333L264.7 1333.1L266.7 1333.2L268.8 1333.3L270.8 1333.3L272.8 1333.4L274.8 1333.5L276.8 1333.6L278.8 1333.7L280.8 1333.8L282.8 1333.9L284.8 1334L286.8 1334.1L288.8 1334.2L290.8 1334.3L292.8 1334.4L294.8 1334.5L296.8 1334.6L298.8 1334.7L300.8 1334.8L302.8 1334.9L304.8 1335L306.8 1335.1L308.8 1335.2L310.8 1335.3L312.8 1335.4L314.8 1335.5L316.8 1335.5L318.8 1335.6L320.8 1335.7L322.8 1335.8L324.8 1335.8L326.8 1335.9L328.8 1336L330.8 1336L332.8 1336.1L334.8 1336.1L336.8 1336.2L338.8 1336.2L340.8 1336.3L342.8 1336.3L344.8 1336.4L346.8 1336.4L348.8 1336.4L350.8 1336.4L352.8 1336.5L354.8 1336.5L356.8 1336.5L358.8 1336.5L360.8 1336.5L362.8 1336.5L364.8 1336.5L366.8 1336.5L368.8 1336.5L370.8 1336.5L372.8 1336.5L374.8 1336.5L376.8 1336.5L378.8 1336.5L380.8 1336.5L382.8 1336.4L384.8 1336.4L386.8 1336.4L388.8 1336.3L390.8 1336.3L392.8 1336.3L394.8 1336.2L396.8 1336.2L398.8 1336.2L400.8 1336.1L402.8 1336.1L404.8 1336L406.8 1336L408.8 1336L410.8 1335.9L412.8 1335.9L414.8 1335.8L416.8 1335.8L418.8 1335.8L420.9 1335.7L422.9 1335.7L424.9 1335.7L426.9 1335.6L428.9 1335.6L430.9 1335.6L432.9 1335.6L434.9 1335.6L436.9 1335.5L438.9 1335.5L440.9 1335.5L442.9 1335.5L444.9 1335.5L446.9 1335.5L448.9 1335.5L450.9 1335.6L452.9 1335.6L454.9 1335.6L456.9 1335.6L458.9 1335.6L460.9 1335.7L462.9 1335.7L464.9 1335.7L466.9 1335.8L468.9 1335.8L470.9 1335.8L472.9 1335.9L474.9 1335.9L476.9 1336L478.9 1336L480.9 1336L482.9 1336.1L484.9 1336.1L486.9 1336.2L488.9 1336.2L490.9 1336.2L492.9 1336.3L494.9 1336.3L496.9 1336.3L498.9 1336.4L500.9 1336.4L502.9 1336.4L504.9 1336.5L506.9 1336.5L508.9 1336.5L510.9 1336.5L512.9 1336.6L514.9 1336.6L516.9 1336.6L518.9 1336.6L520.9 1336.7L522.9 1336.7L525 1336.8L527 1336.8L529 1336.9L531 1337L533 1337.1L535 1337.2L537 1337.3L539 1337.4L540.9 1337.5L542.9 1337.7L544.9 1337.9L546.9 1338L548.9 1338.2L550.9 1338.4L552.9 1338.6L554.9 1338.9L556.9 1339.1L558.9 1339.3L560.9 1339.5L562.9 1339.7L564.9 1339.9L566.9 1340L568.9 1340.2L570.9 1340.3L572.9 1340.4L574.9 1340.5L576.9 1340.5L578.9 1340.6L580.9 1340.5L582.9 1340.5L584.9 1340.4L586.9 1340.2L588.9 1340L590.8 1339.8L592.8 1339.5L594.8 1339.1L596.7 1338.7L598.6 1338.3L600.6 1337.8L602.5 1337.2L604.4 1336.6L606.3 1336L608.2 1335.3L610 1334.6L611.9 1333.9L613.8 1333.1L615.6 1332.4L617.5 1331.6L619.3 1330.8L621.1 1329.9L622.9 1329.1L624.8 1328.2L626.6 1327.4L628.4 1326.5L630.2 1325.7L632 1324.8L633.9 1323.9L635.7 1323.1L637.5 1322.2L639.3 1321.4L641.2 1320.5L643 1319.7L644.8 1318.9L646.7 1318.1L648.6 1317.3L650.4 1316.6L652.3 1315.9L654.2 1315.2L656.1 1314.5L658 1313.8L659.9 1313.2L661.8 1312.6L663.7 1312.1L665.6 1311.6L667.5 1311.1L669.5 1310.6L671.4 1310.2L673.4 1309.9L675.4 1309.6L677.3 1309.3L679.3 1309.1L681.3 1308.9L683.3 1308.8L685.3 1308.8L687.3 1308.8L689.3 1308.8L691.2 1308.9L693.2 1309L695.2 1309.2L697.2 1309.4L699.2 1309.7L701.2 1309.9L703.2 1310.2L705.2 1310.6L707.2 1310.9L709.1 1311.3L711.1 1311.6L713.1 1312L715.1 1312.3L717.1 1312.7L719.1 1313L721 1313.3L723 1313.6L725 1313.9L727 1314.1L729 1314.2L730.9 1314.4L732.9 1314.4L734.9 1314.4L736.9 1314.4L738.9 1314.3L740.8 1314.1L742.8 1313.9L744.8 1313.6L746.8 1313.4L748.7 1313.1L750.7 1312.7L752.7 1312.3L754.6 1311.9L756.6 1311.5L758.5 1311.1L760.5 1310.6L762.5 1310.2L764.4 1309.7L766.3 1309.2L768.3 1308.7L770.2 1308.2L772.2 1307.7L774.1 1307.2L776.1 1306.7L778 1306.2L780 1305.7L781.9 1305.2L783.8 1304.7L785.8 1304.2L787.7 1303.7L789.7 1303.3L791.7 1302.8L793.6 1302.4L795.6 1301.9L797.5 1301.5L799.5 1301.1L801.5 1300.8L803.4 1300.4L805.4 1300.1L807.4 1299.7L809.3 1299.4L811.3 1299.1L813.3 1298.9L815.3 1298.6L817.3 1298.4L819.3 1298.2L821.2 1298L823.2 1297.8L825.2 1297.6L827.2 1297.5L829.2 1297.3L831.2 1297.2L833.2 1297.1L835.2 1296.9L837.2 1296.8L839.2 1296.7L841.2 1296.6L843.2 1296.5L845.2 1296.5L847.3 1296.4L849.3 1296.3L851.3 1296.3L853.3 1296.2L855.3 1296.2L857.3 1296.1L859.3 1296.1L861.3 1296.1L863.3 1296.1L865.3 1296.1L867.3 1296.1L869.3 1296.1L871.3 1296.2L873.3 1296.2L875.3 1296.3L877.3 1296.4L879.3 1296.5L881.3 1296.6L883.3 1296.7L885.3 1296.8L887.3 1297L889.3 1297.2L891.3 1297.4L893.2 1297.6L895.2 1297.8L897.2 1298L899.2 1298.3L901.2 1298.5L903.2 1298.8L905.2 1299.1L907.1 1299.4L909.1 1299.6L911.1 1299.9L913.1 1300.2L915.1 1300.5L917.1 1300.8L919 1301.1L921 1301.3L923 1301.6L925 1301.9L927 1302.1L929 1302.4L931 1302.7L932.9 1302.9L934.9 1303.1L936.9 1303.3L938.9 1303.5L940.9 1303.7L942.9 1303.9L944.9 1304.1L946.9 1304.3L948.9 1304.4L950.9 1304.6L952.9 1304.7L954.9 1304.9L956.9 1305L958.9 1305.1L960.9 1305.2L962.9 1305.4L964.9 1305.5L966.9 1305.6L968.9 1305.6L970.9 1305.7L972.9 1305.8L974.9 1305.9L976.9 1306L978.9 1306L980.9 1306.1L982.9 1306.1L984.9 1306.2L986.9 1306.2L988.9 1306.3L990.9 1306.3L992.9 1306.4L994.9 1306.4L996.9 1306.5L998.9 1306.5L1000.9 1306.5L1002.9 1306.5L1004.9 1306.6L1006.9 1306.6L1008.9 1306.6L1010.9 1306.7L1012.9 1306.7L1014.9 1306.7L1016.9 1306.7L1018.9 1306.8L1020.9 1306.8L1022.9 1306.8L1024.9 1306.9L1026.9 1306.9L1028.9 1306.9L1030.9 1307L1032.9 1307L1034.9 1307L1036.9 1307L1038.9 1307.1L1041 1307.1L1043 1307.1L1045 1307.1L1047 1307.1L1049 1307.1L1051 1307.1L1053 1307.1L1055 1307.1L1057 1307.1L1059 1307.1L1061 1307L1063 1307L1065 1306.9L1067 1306.9L1069 1306.8L1071 1306.7L1073 1306.6L1075 1306.5L1077 1306.4L1079 1306.3L1081 1306.1L1083 1306L1085 1305.8L1086.9 1305.7L1088.9 1305.5L1090.9 1305.3L1092.9 1305.1L1094.9 1304.9L1096.9 1304.7L1098.9 1304.5L1100.9 1304.3L1102.9 1304L1104.9 1303.8L1106.9 1303.5L1108.9 1303.3L1110.8 1303.1L1112.8 1302.8L1114.8 1302.5L1116.8 1302.3L1118.8 1302L1120.8 1301.7L1122.8 1301.5L1124.7 1301.2L1126.7 1300.9L1128.7 1300.6L1130.7 1300.3L1132.6 1299.9L1134.6 1299.6L1136.6 1299.2L1138.6 1298.9L1140.5 1298.5L1142.5 1298.1L1144.4 1297.7L1146.4 1297.3L1148.4 1296.9L1150.3 1296.5L1152.3 1296L1154.2 1295.6L1156.2 1295.2L1158.1 1294.7L1160.1 1294.3L1162 1293.8L1164 1293.3L1165.9 1292.8L1167.9 1292.4L1169.8 1291.9L1171.7 1291.4L1173.7 1290.9L1175.6 1290.4L1177.6 1289.9L1179.5 1289.4L1181.4 1288.9L1183.4 1288.4L1185.3 1287.8L1187.3 1287.3L1189.2 1286.8L1191.1 1286.3L1193.1 1285.7L1195 1285.2L1196.9 1284.7L1198.8 1284.1L1200.8 1283.6L1202.7 1283L1204.6 1282.5L1206.5 1281.9L1208.5 1281.3L1210.4 1280.8L1212.3 1280.2L1214.2 1279.6L1216.1 1279L1218 1278.4L1220 1277.8L1221.9 1277.2L1223.8 1276.6L1225.7 1276L1227.6 1275.4L1229.5 1274.7L1231.4 1274.1L1233.3 1273.5L1235.2 1272.8L1237.1 1272.2L1239 1271.5L1240.8 1270.9L1242.7 1270.2L1244.6 1269.5L1246.5 1268.8L1248.4 1268.2L1250.3 1267.5L1252.1 1266.8L1254 1266.1L1255.9 1265.4L1257.7 1264.6L1259.6 1263.9L1261.5 1263.2L1263.3 1262.5L1265.2 1261.7L1267.1 1261L1268.9 1260.2L1270.8 1259.5L1272.6 1258.7L1274.5 1257.9L1276.3 1257.2L1278.1 1256.4L1280 1255.6L1281.8 1254.8L1283.7 1254L1285.5 1253.2L1287.3 1252.4L1289.2 1251.6L1291 1250.8L1292.8 1250L1294.7 1249.2L1296.5 1248.4L1298.3 1247.5L1300.2 1246.7L1302 1245.9L1303.8 1245.1L1305.6 1244.2L1307.5 1243.4L1309.3 1242.6L1311.1 1241.7L1312.9 1240.9L1314.7 1240.1L1316.6 1239.2L1318.4 1238.4L1320.2 1237.5L1322 1236.7L1323.8 1235.8L1325.7 1235L1327.5 1234.2L1329.3 1233.3L1331.1 1232.5L1333 1231.6L1334.8 1230.8L1336.6 1230L1338.4 1229.1L1340.3 1228.3L1342.1 1227.5L1343.9 1226.6L1345.7 1225.8L1347.6 1225L1349.4 1224.2L1351.2 1223.3L1353 1222.5L1354.9 1221.7L1356.7 1220.9L1358.6 1220.1L1360.4 1219.3L1362.2 1218.5L1364.1 1217.7L1365.9 1216.9L1367.8 1216.2L1369.6 1215.4L1371.4 1214.6L1373.3 1213.9L1375.1 1213.1L1377 1212.4L1378.9 1211.6L1380.7 1210.9L1382.6 1210.2L1384.4 1209.4L1386.3 1208.7L1388.2 1208L1390.1 1207.4L1391.9 1206.7L1393.8 1206L1395.7 1205.3L1397.6 1204.7L1399.5 1204.1L1401.3 1203.4L1403.2 1202.8L1405.1 1202.2L1407 1201.6L1408.9 1201L1410.8 1200.5L1412.8 1199.9L1414.7 1199.4L1416.6 1198.9L1418.5 1198.3L1420.4 1197.8L1422.4 1197.4L1424.3 1196.9L1426.2 1196.4L1428.2 1196L1430.1 1195.5L1432.1 1195.1L1434 1194.7L1436 1194.3L1437.9 1193.9L1439.9 1193.5L1441.8 1193.1L1443.8 1192.8L1445.8 1192.4L1447.7 1192.1L1449.7 1191.7L1451.7 1191.4L1453.6 1191.1L1455.6 1190.7L1457.6 1190.4L1459.6 1190.1L1461.6 1189.8L1463.5 1189.5L1465.5 1189.2L1467.5 1188.9L1469.5 1188.6L1471.5 1188.3L1473.5 1188L1475.4 1187.7L1477.4 1187.4L1479.4 1187.1L1481.4 1186.8L1483.4 1186.5L1485.4 1186.1L1487.4 1185.8L1489.3 1185.5L1491.3 1185.2L1493.3 1184.9L1495.3 1184.6L1497.3 1184.2L1499.3 1183.9L1501.2 1183.6L1503.2 1183.2L1505.2 1182.9L1507.2 1182.5L1509.1 1182.1L1511.1 1181.8L1513.1 1181.4L1515 1181L1517 1180.6L1519 1180.2L1520.9 1179.7L1522.9 1179.3L1524.8 1178.9L1526.8 1178.4L1528.7 1177.9L1530.7 1177.5L1532.6 1177L1534.5 1176.5L1536.5 1175.9L1538.4 1175.4L1540.3 1174.9L1542.2 1174.3L1544.1 1173.8L1546 1173.2L1547.9 1172.6L1549.8 1172L1551.7 1171.3L1553.6 1170.7L1555.5 1170L1557.4 1169.4L1559.2 1168.7L1561.1 1168L1563 1167.3L1564.8 1166.5L1566.6 1165.8L1568.5 1165L1570.3 1164.2L1572.1 1163.4L1573.9 1162.6L1575.7 1161.8L1577.5 1161L1579.3 1160.1L1581.1 1159.3L1582.9 1158.4L1584.7 1157.5L1586.4 1156.6L1588.2 1155.6L1589.9 1154.7L1591.7 1153.7L1593.4 1152.8L1595.1 1151.8L1596.8 1150.8L1598.5 1149.7L1600.2 1148.7L1601.9 1147.7L1603.6 1146.6L1605.2 1145.5L1606.9 1144.4L1608.5 1143.3L1610.2 1142.2L1611.8 1141L1613.4 1139.9L1615 1138.7L1616.7 1137.5L1618.3 1136.4L1619.8 1135.2L1621.4 1133.9L1623 1132.7L1624.6 1131.5L1626.1 1130.3L1627.7 1129L1629.2 1127.7L1630.8 1126.5L1632.3 1125.2L1633.9 1123.9L1635.4 1122.6L1636.9 1121.3L1638.4 1120L1640 1118.7L1641.5 1117.4L1643 1116.1L1644.5 1114.8L1646 1113.4L1647.5 1112.1L1649 1110.8L1650.4 1109.4L1651.9 1108.1L1653.4 1106.7L1654.9 1105.4L1656.4 1104L1657.9 1102.7L1659.3 1101.3L1660.8 1100L1662.3 1098.6L1663.8 1097.3L1665.2 1095.9L1666.7 1094.5L1668.2 1093.2L1669.7 1091.8L1671.1 1090.5L1672.6 1089.1L1674.1 1087.8L1675.6 1086.4L1677.1 1085.1L1678.6 1083.7L1680 1082.4L1681.5 1081L1683 1079.7L1684.5 1078.4L1686 1077L1687.5 1075.7L1689.1 1074.4L1690.6 1073.1L1692.1 1071.7L1693.6 1070.4L1695.1 1069.1L1696.6 1067.8L1698.2 1066.5L1699.7 1065.1L1701.2 1063.8L1702.8 1062.5L1704.3 1061.2L1705.8 1059.9L1707.4 1058.6L1708.9 1057.3L1710.5 1056L1712 1054.7L1713.6 1053.4L1715.1 1052.1L1716.7 1050.8L1718.3 1049.5L1719.8 1048.2L1721.4 1046.9L1723 1045.6L1724.6 1044.3L1726.2 1043L1727.8 1041.7L1729.4 1040.4L1731 1039.2L1732.6 1037.9L1734.2 1036.7L1735.8 1035.4L1737.4 1034.2L1739.1 1032.9L1740.7 1031.7L1742.4 1030.5L1744 1029.3L1745.7 1028.1L1747.4 1026.9L1749.1 1025.8L1750.8 1024.6L1752.5 1023.5L1754.2 1022.4L1755.9 1021.3L1757.6 1020.2L1759.4 1019.1L1761.1 1018.1L1762.9 1017.1L1764.6 1016.1L1766.4 1015.1L1768.2 1014.2L1770 1013.3L1771.8 1012.4L1773.6 1011.6L1775.4 1010.8L1777.3 1010L1779.1 1009.3L1780.9 1008.6L1782.8 1007.9L1784.7 1007.3L1786.5 1006.8L1788.4 1006.3L1790.3 1005.8L1792.2 1005.4L1794.1 1005.1L1796 1004.8L1797.9 1004.6L1799.9 1004.4L1801.8 1004.3L1803.7 1004.3L1805.6 1004.3L1807.5 1004.5L1809.5 1004.7L1811.4 1004.9L1813.2 1005.3L1815.1 1005.7L1817 1006.2L1818.8 1006.8L1820.6 1007.5L1822.4 1008.2L1824.1 1009L1825.9 1009.9L1827.6 1010.8L1829.3 1011.8L1830.9 1012.8L1832.5 1013.9L1834.1 1015L1835.7 1016.1L1837.3 1017.4L1838.8 1018.6L1840.3 1019.9L1841.8 1021.2L1843.2 1022.6L1844.7 1024L1846.1 1025.4L1847.5 1026.9L1848.8 1028.3L1850.2 1029.8L1851.5 1031.4L1852.8 1032.9L1854.1 1034.5L1855.4 1036L1856.7 1037.6L1857.9 1039.3L1859.2 1040.9L1860.4 1042.5L1861.6 1044.2L1862.7 1045.9L1863.9 1047.5L1865.1 1049.2L1866.2 1050.9L1867.3 1052.6L1868.4 1054.3L1869.5 1056.1L1870.6 1057.8L1871.6 1059.5L1872.7 1061.3L1873.7 1063L1874.7 1064.8L1875.7 1066.6L1876.7 1068.3L1877.7 1070.1L1878.7 1071.9L1879.6 1073.7L1880.5 1075.5L1881.4 1077.3L1882.3 1079.1L1883.2 1080.9L1884.1 1082.7L1885 1084.5L1885.8 1086.3L1886.6 1088.2L1887.5 1090L1888.3 1091.8L1889.1 1093.7L1889.9 1095.5L1890.7 1097.4L1891.4 1099.2L1892.2 1101.1L1893 1102.9L1893.7 1104.8L1894.5 1106.7L1895.2 1108.5L1895.9 1110.4L1896.7 1112.3L1897.4 1114.1L1898.1 1116L1898.8 1117.9L1899.6 1119.7L1900.3 1121.6L1901 1123.5L1901.7 1125.4L1902.4 1127.2L1903.1 1129.1L1903.8 1131L1904.5 1132.8L1905.3 1134.7L1906 1136.6L1906.7 1138.5L1907.4 1140.3L1908.1 1142.2L1908.8 1144.1L1909.5 1146L1910.2 1147.8L1910.9 1149.7L1911.7 1151.6L1912.4 1153.4L1913.1 1155.3L1913.8 1157.2L1914.6 1159L1915.3 1160.9L1916 1162.8L1916.7 1164.6L1917.5 1166.5L1918.2 1168.3L1919 1170.2L1919.7 1172.1L1920.4 1173.9L1921.2 1175.8L1922 1177.6L1922.7 1179.5L1923.5 1181.3L1924.2 1183.2L1925 1185L1925.8 1186.9L1926.5 1188.7L1927.3 1190.6L1928.1 1192.4L1928.9 1194.2L1929.7 1196.1L1930.5 1197.9L1931.3 1199.8L1932.1 1201.6L1932.9 1203.4L1933.7 1205.3L1934.5 1207.1L1935.3 1208.9L1936.1 1210.7L1936.9 1212.6L1937.7 1214.4L1938.6 1216.2L1939.4 1218L1940.2 1219.9L1941.1 1221.7L1941.9 1223.5L1942.7 1225.3L1943.6 1227.1L1944.4 1228.9L1945.3 1230.8L1946.1 1232.6L1947 1234.4L1947.8 1236.2L1948.6 1238L1949.5 1239.8L1950.3 1241.6L1951.2 1243.5L1952 1245.3L1952.9 1247.1L1953.7 1248.9L1954.6 1250.7L1955.4 1252.5L1956.3 1254.3L1957.1 1256.1L1958 1258L1958.8 1259.8L1959.7 1261.6L1960.5 1263.4L1961.4 1265.2L1963 1275L1965 1362.5L1966.8 1363.5L1968.6 1364.6L1970.4 1365.6L1972.1 1366.7L1973.9 1367.7L1975.7 1368.7L1977.5 1369.8L1979.3 1370.8L1981.1 1371.8L1982.9 1372.8L1984.7 1373.9L1986.5 1374.9L1988.3 1375.9L1990.1 1376.9L1991.9 1377.9L1993.7 1378.9L1995.5 1379.9L1997.3 1380.8L1999.1 1381.8L2001 1382.8L2002.8 1383.7L2004.6 1384.7L2006.5 1385.6L2008.3 1386.6L2010.1 1387.5L2012 1388.4L2013.8 1389.3L2015.7 1390.2L2017.5 1391.1L2019.4 1392L2021.3 1392.9L2023.1 1393.8L2025 1394.6L2026.9 1395.5L2028.7 1396.4L2030.6 1397.2L2032.5 1398.1L2034.4 1398.9L2036.2 1399.8L2038.1 1400.7L2040 1401.5"/>
<path stroke="#034a06" d="M199 1391.2L201 1391.2L203 1391.2L205 1391.2L207 1391.2L209 1391.2L211 1391.2L213 1391.2L215 1391.2L217 1391.2L219 1391.2L221 1391.2L223 1391.2L225.1 1391.3L227.1 1391.3L229.1 1391.3L231.1 1391.3L233.1 1391.3L235.1 1391.3L237.1 1391.3L239.1 1391.3L241.1 1391.3L243.1 1391.3L245.1 1391.3L247.1 1391.3L249.1 1391.3L251.1 1391.3L253.1 1391.3L255.1 1391.3L257.1 1391.3L259.1 1391.3L261.1 1391.3L263.1 1391.3L265.1 1391.3L267.1 1391.3L269.1 1391.3L271.1 1391.3L273.1 1391.3L275.2 1391.3L277.2 1391.3L279.2 1391.3L281.2 1391.3L283.2 1391.3L285.2 1391.3L287.2 1391.3L289.2 1391.3L291.2 1391.3L293.2 1391.3L295.2 1391.3L297.2 1391.3L299.2 1391.3L301.2 1391.4L303.2 1391.4L305.2 1391.4L307.2 1391.4L309.2 1391.4L311.2 1391.4L313.2 1391.4L315.2 1391.4L317.2 1391.4L319.2 1391.4L321.2 1391.4L323.2 1391.4L325.2 1391.4L327.3 1391.4L329.3 1391.4L331.3 1391.3L333.3 1391.3L335.3 1391.3L337.3 1391.3L339.3 1391.3L341.3 1391.3L343.3 1391.3L345.3 1391.3L347.3 1391.3L349.3 1391.3L351.3 1391.3L353.3 1391.3L355.3 1391.3L357.3 1391.3L359.3 1391.3L361.3 1391.3L363.3 1391.3L365.3 1391.3L367.3 1391.3L369.3 1391.3L371.3 1391.3L373.3 1391.3L375.3 1391.3L377.3 1391.3L379.3 1391.3L381.4 1391.3L383.4 1391.3L385.4 1391.3L387.4 1391.2L389.4 1391.2L391.4 1391.2L393.4 1391.2L395.4 1391.2L397.4 1391.2L399.4 1391.2L401.4 1391.2L403.4 1391.2L405.4 1391.2L407.4 1391.2L409.4 1391.2L411.4 1391.2L413.4 1391.1L415.4 1391.1L417.4 1391.1L419.4 1391.1L421.4 1391.1L423.4 1391.1L425.4 1391.1L427.4 1391.1L429.4 1391.1L431.4 1391.1L433.4 1391L435.5 1391L437.5 1391L439.5 1391L441.5 1391L443.5 1391L445.5 1391L447.5 1391L449.5 1391L451.5 1390.9L453.5 1390.9L455.5 1390.9L457.5 1390.9L459.5 1390.9L461.5 1390.9L463.5 1390.9L465.5 1390.9L467.5 1390.9L469.5 1390.9L471.5 1390.8L473.5 1390.8L475.5 1390.8L477.5 1390.8L479.5 1390.8L481.5 1390.8L483.5 1390.8L485.5 1390.8L487.5 1390.8L489.5 1390.8L491.6 1390.8L493.6 1390.8L495.6 1390.7L497.6 1390.7L499.6 1390.7L501.6 1390.7L503.6 1390.7L505.6 1390.7L507.6 1390.7L509.6 1390.7L511.6 1390.7L513.6 1390.7L515.6 1390.7L517.6 1390.7L519.6 1390.7L521.6 1390.7L523.6 1390.7L525.6 1390.7L527.6 1390.7L529.6 1390.7L531.6 1390.7L533.6 1390.7L535.6 1390.7L537.6 1390.7L539.7 1390.7L541.7 1390.7L543.7 1390.7L545.7 1390.7L547.7 1390.7L549.7 1390.7L551.7 1390.7L553.7 1390.7L555.7 1390.7L557.7 1390.7L559.7 1390.7L561.7 1390.8L563.7 1390.8L565.7 1390.8L567.7 1390.8L569.7 1390.8L571.7 1390.8L573.7 1390.8L575.7 1390.7L577.7 1390.7L579.7 1390.7L581.7 1390.7L583.8 1390.7L585.8 1390.7L587.8 1390.6L589.8 1390.6L591.8 1390.6L593.8 1390.5L595.8 1390.5L597.8 1390.4L599.8 1390.3L601.8 1390.3L603.8 1390.2L605.8 1390.1L607.8 1390L609.8 1389.9L611.8 1389.8L613.8 1389.7L615.8 1389.6L617.8 1389.5L619.8 1389.3L621.8 1389.2L623.8 1389L625.8 1388.9L627.8 1388.7L629.8 1388.5L631.8 1388.3L633.8 1388.2L635.8 1388L637.8 1387.8L639.8 1387.6L641.8 1387.4L643.8 1387.2L645.8 1387L647.8 1386.8L649.8 1386.6L651.8 1386.4L653.8 1386.2L655.8 1386.1L657.8 1385.9L659.8 1385.8L661.8 1385.6L663.8 1385.5L665.8 1385.4L667.8 1385.3L669.8 1385.2L671.8 1385.1L673.8 1385L675.8 1385L677.8 1385L679.7 1385L681.7 1385L683.7 1385L685.7 1385.1L687.7 1385.2L689.7 1385.2L691.7 1385.3L693.7 1385.5L695.7 1385.6L697.7 1385.7L699.7 1385.9L701.7 1386L703.7 1386.1L705.7 1386.3L707.7 1386.4L709.7 1386.6L711.7 1386.7L713.7 1386.8L715.7 1386.9L717.7 1387.1L719.7 1387.1L721.7 1387.2L723.7 1387.3L725.7 1387.3L727.7 1387.4L729.8 1387.4L731.8 1387.4L733.8 1387.4L735.8 1387.3L737.8 1387.3L739.8 1387.2L741.8 1387.2L743.8 1387.1L745.8 1387L747.8 1386.9L749.8 1386.8L751.8 1386.7L753.8 1386.6L755.8 1386.4L757.8 1386.3L759.8 1386.2L761.8 1386.1L763.8 1386L765.8 1385.8L767.8 1385.7L769.8 1385.6L771.8 1385.5L773.8 1385.4L775.8 1385.3L777.8 1385.2L779.8 1385.1L781.8 1385L783.8 1384.9L785.8 1384.8L787.8 1384.7L789.8 1384.6L791.8 1384.5L793.8 1384.4L795.8 1384.3L797.8 1384.3L799.8 1384.2L801.8 1384.1L803.8 1384L805.8 1384L807.8 1383.9L809.8 1383.8L811.8 1383.8L813.8 1383.7L815.8 1383.6L817.9 1383.6L819.9 1383.5L821.9 1383.5L823.9 1383.4L825.9 1383.3L827.9 1383.3L829.9 1383.2L831.9 1383.2L833.9 1383.1L835.9 1383.1L837.9 1383L839.9 1382.9L841.9 1382.9L843.9 1382.8L845.9 1382.8L847.9 1382.7L849.9 1382.6L851.9 1382.6L853.9 1382.5L855.9 1382.5L857.9 1382.4L859.9 1382.3L861.9 1382.3L863.9 1382.2L865.9 1382.2L867.9 1382.1L869.9 1382L871.9 1382L873.9 1381.9L875.9 1381.8L877.9 1381.8L879.9 1381.7L881.9 1381.7L883.9 1381.6L885.9 1381.5L887.9 1381.5L890 1381.4L892 1381.3L894 1381.3L896 1381.2L898 1381.2L900 1381.1L902 1381L904 1381L906 1380.9L908 1380.9L910 1380.8L912 1380.7L914 1380.7L916 1380.6L918 1380.6L920 1380.5L922 1380.5L924 1380.4L926 1380.4L928 1380.3L930 1380.3L932 1380.2L934 1380.2L936 1380.1L938 1380.1L940 1380L942 1380L944 1379.9L946 1379.9L948 1379.8L950 1379.8L952 1379.7L954.1 1379.7L956.1 1379.7L958.1 1379.6L960.1 1379.6L962.1 1379.5L964.1 1379.5L966.1 1379.5L968.1 1379.4L970.1 1379.4L972.1 1379.3L974.1 1379.3L976.1 1379.3L978.1 1379.2L980.1 1379.2L982.1 1379.2L984.1 1379.2L986.1 1379.1L988.1 1379.1L990.1 1379.1L992.1 1379L994.1 1379L996.1 1379L998.1 1379L1000.1 1378.9L1002.1 1378.9L1004.1 1378.9L1006.1 1378.8L1008.2 1378.8L1010.2 1378.8L1012.2 1378.8L1014.2 1378.7L1016.2 1378.7L1018.2 1378.7L1020.2 1378.6L1022.2 1378.6L1024.2 1378.6L1026.2 1378.5L1028.2 1378.5L1030.2 1378.5L1032.2 1378.4L1034.2 1378.4L1036.2 1378.3L1038.2 1378.3L1040.2 1378.2L1042.2 1378.1L1044.2 1378.1L1046.2 1378L1048.2 1378L1050.2 1377.9L1052.2 1377.8L1054.2 1377.7L1056.2 1377.6L1058.2 1377.6L1060.2 1377.5L1062.2 1377.4L1064.2 1377.3L1066.2 1377.1L1068.2 1377L1070.2 1376.9L1072.2 1376.8L1074.2 1376.7L1076.2 1376.6L1078.2 1376.4L1080.2 1376.3L1082.2 1376.2L1084.2 1376.1L1086.2 1375.9L1088.2 1375.8L1090.2 1375.7L1092.2 1375.5L1094.2 1375.4L1096.2 1375.3L1098.2 1375.2L1100.2 1375L1102.2 1374.9L1104.2 1374.8L1106.2 1374.7L1108.2 1374.6L1110.2 1374.4L1112.2 1374.3L1114.3 1374.2L1116.3 1374.1L1118.3 1374L1120.3 1373.8L1122.3 1373.7L1124.3 1373.6L1126.3 1373.5L1128.3 1373.3L1130.3 1373.2L1132.3 1373L1134.2 1372.9L1136.2 1372.7L1138.2 1372.5L1140.2 1372.4L1142.2 1372.2L1144.2 1372L1146.2 1371.8L1148.2 1371.6L1150.2 1371.3L1152.2 1371.1L1154.2 1370.9L1156.1 1370.6L1158.1 1370.4L1160.1 1370.1L1162.1 1369.8L1164.1 1369.5L1166.1 1369.2L1168 1368.9L1170 1368.6L1172 1368.3L1174 1368L1175.9 1367.6L1177.9 1367.3L1179.9 1367L1181.9 1366.6L1183.8 1366.3L1185.8 1365.9L1187.8 1365.6L1189.8 1365.2L1191.7 1364.9L1193.7 1364.5L1195.7 1364.1L1197.6 1363.8L1199.6 1363.4L1201.6 1363L1203.6 1362.7L1205.5 1362.3L1207.5 1361.9L1209.5 1361.5L1211.4 1361.2L1213.4 1360.8L1215.4 1360.4L1217.3 1360.1L1219.3 1359.7L1221.3 1359.3L1223.2 1358.9L1225.2 1358.5L1227.2 1358.1L1229.1 1357.8L1231.1 1357.4L1233.1 1357L1235.1 1356.6L1237 1356.2L1239 1355.8L1240.9 1355.4L1242.9 1355L1244.9 1354.6L1246.8 1354.2L1248.8 1353.8L1250.8 1353.4L1252.7 1353L1254.7 1352.6L1256.7 1352.2L1258.6 1351.7L1260.6 1351.3L1262.5 1350.9L1264.5 1350.5L1266.5 1350.1L1268.4 1349.6L1270.4 1349.2L1272.3 1348.8L1274.3 1348.3L1276.2 1347.9L1278.2 1347.4L1280.2 1347L1282.1 1346.6L1284.1 1346.1L1286 1345.7L1288 1345.2L1289.9 1344.8L1291.9 1344.3L1293.8 1343.9L1295.8 1343.4L1297.7 1343L1299.7 1342.5L1301.7 1342.1L1303.6 1341.6L1305.6 1341.2L1307.5 1340.7L1309.5 1340.3L1311.4 1339.9L1313.4 1339.4L1315.3 1339L1317.3 1338.5L1319.2 1338.1L1321.2 1337.7L1323.2 1337.2L1325.1 1336.8L1327.1 1336.4L1329 1335.9L1331 1335.5L1332.9 1335.1L1334.9 1334.7L1336.9 1334.2L1338.8 1333.8L1340.8 1333.4L1342.7 1333L1344.7 1332.6L1346.7 1332.2L1348.6 1331.8L1350.6 1331.4L1352.6 1331L1354.5 1330.7L1356.5 1330.3L1358.5 1329.9L1360.4 1329.6L1362.4 1329.2L1364.4 1328.8L1366.3 1328.5L1368.3 1328.1L1370.3 1327.8L1372.3 1327.5L1374.2 1327.1L1376.2 1326.8L1378.2 1326.5L1380.2 1326.2L1382.1 1325.9L1384.1 1325.6L1386.1 1325.3L1388.1 1325L1390.1 1324.8L1392 1324.5L1394 1324.2L1396 1324L1398 1323.7L1400 1323.5L1402 1323.2L1404 1323L1405.9 1322.8L1407.9 1322.6L1409.9 1322.3L1411.9 1322.1L1413.9 1321.9L1415.9 1321.7L1417.9 1321.5L1419.9 1321.3L1421.9 1321.1L1423.9 1320.9L1425.9 1320.8L1427.9 1320.6L1429.9 1320.4L1431.9 1320.2L1433.9 1320.1L1435.9 1319.9L1437.9 1319.7L1439.9 1319.6L1441.9 1319.4L1443.9 1319.3L1445.8 1319.1L1447.8 1319L1449.8 1318.8L1451.8 1318.7L1453.9 1318.5L1455.9 1318.4L1457.9 1318.3L1459.9 1318.1L1461.9 1318L1463.9 1317.8L1465.9 1317.7L1467.9 1317.6L1469.9 1317.4L1471.9 1317.3L1473.9 1317.1L1475.9 1317L1477.9 1316.8L1479.9 1316.7L1481.9 1316.6L1483.9 1316.4L1485.9 1316.3L1487.9 1316.1L1489.9 1315.9L1491.9 1315.8L1493.9 1315.6L1495.9 1315.5L1497.9 1315.3L1499.9 1315.1L1501.9 1314.9L1503.9 1314.8L1505.8 1314.6L1507.8 1314.4L1509.8 1314.2L1511.8 1314L1513.8 1313.8L1515.8 1313.6L1517.8 1313.4L1519.8 1313.2L1521.8 1312.9L1523.8 1312.7L1525.8 1312.5L1527.8 1312.2L1529.7 1312L1531.7 1311.7L1533.7 1311.5L1535.7 1311.2L1537.7 1310.9L1539.7 1310.6L1541.6 1310.3L1543.6 1310L1545.6 1309.7L1547.6 1309.4L1549.6 1309.1L1551.5 1308.8L1553.5 1308.4L1555.5 1308.1L1557.4 1307.7L1559.4 1307.4L1561.4 1307L1563.3 1306.6L1565.3 1306.2L1567.2 1305.8L1569.2 1305.4L1571.2 1305L1573.1 1304.6L1575.1 1304.1L1577 1303.7L1579 1303.2L1580.9 1302.8L1582.8 1302.3L1584.8 1301.8L1586.7 1301.4L1588.7 1300.9L1590.6 1300.4L1592.5 1299.9L1594.5 1299.3L1596.4 1298.8L1598.3 1298.3L1600.3 1297.7L1602.2 1297.2L1604.1 1296.6L1606 1296.1L1607.9 1295.5L1609.8 1294.9L1611.8 1294.3L1613.7 1293.7L1615.6 1293.1L1617.5 1292.5L1619.4 1291.9L1621.3 1291.3L1623.2 1290.7L1625.1 1290.1L1627 1289.4L1628.9 1288.8L1630.8 1288.2L1632.7 1287.5L1634.6 1286.9L1636.5 1286.2L1638.4 1285.6L1640.3 1284.9L1642.2 1284.3L1644.1 1283.6L1646 1282.9L1647.8 1282.3L1649.7 1281.6L1651.6 1280.9L1653.5 1280.2L1655.4 1279.6L1657.3 1278.9L1659.2 1278.2L1661 1277.5L1662.9 1276.8L1664.8 1276.1L1666.7 1275.4L1668.6 1274.8L1670.5 1274.1L1672.3 1273.4L1674.2 1272.6L1676.1 1271.9L1678 1271.2L1679.8 1270.5L1681.7 1269.8L1683.6 1269.1L1685.5 1268.4L1687.3 1267.6L1689.2 1266.9L1691.1 1266.2L1692.9 1265.4L1694.8 1264.7L1696.7 1263.9L1698.5 1263.2L1700.4 1262.4L1702.3 1261.7L1704.1 1260.9L1706 1260.2L1707.9 1259.4L1709.7 1258.7L1711.6 1257.9L1713.4 1257.1L1715.3 1256.4L1717.2 1255.6L1719 1254.8L1720.9 1254.1L1722.8 1253.3L1724.6 1252.6L1726.5 1251.8L1728.4 1251.1L1730.2 1250.3L1732.1 1249.6L1734 1248.9L1735.9 1248.1L1737.8 1247.4L1739.6 1246.7L1741.5 1246L1743.4 1245.4L1745.3 1244.7L1747.2 1244L1749.1 1243.4L1751 1242.7L1752.9 1242.1L1754.9 1241.5L1756.8 1240.9L1758.7 1240.3L1760.6 1239.7L1762.6 1239.2L1764.5 1238.7L1766.4 1238.1L1768.4 1237.6L1770.3 1237.2L1772.3 1236.7L1774.2 1236.3L1776.2 1235.9L1778.1 1235.5L1780.1 1235.1L1782 1234.7L1784 1234.4L1786 1234.1L1787.9 1233.9L1789.9 1233.6L1791.9 1233.4L1793.9 1233.2L1795.9 1233.1L1797.8 1233L1799.8 1232.9L1801.8 1232.8L1803.8 1232.8L1805.8 1232.8L1807.8 1232.9L1809.8 1233L1811.7 1233.1L1813.7 1233.3L1815.7 1233.5L1817.6 1233.7L1819.6 1234L1821.5 1234.4L1823.5 1234.7L1825.4 1235.2L1827.3 1235.6L1829.2 1236.1L1831.1 1236.6L1833 1237.2L1834.9 1237.8L1836.7 1238.5L1838.6 1239.1L1840.4 1239.8L1842.3 1240.6L1844.1 1241.4L1845.9 1242.2L1847.7 1243L1849.5 1243.9L1851.2 1244.8L1853 1245.7L1854.7 1246.7L1856.4 1247.7L1858.2 1248.7L1859.9 1249.7L1861.6 1250.8L1863.2 1251.9L1864.9 1253L1866.6 1254.1L1868.2 1255.2L1869.8 1256.4L1871.5 1257.6L1873.1 1258.8L1874.7 1260L1876.3 1261.3L1877.8 1262.5L1879.4 1263.8L1881 1265.1L1882.5 1266.3L1884.1 1267.7L1885.6 1269L1887.1 1270.3L1888.6 1271.6L1890.1 1273L1891.6 1274.3L1893.1 1275.7L1894.6 1277.1L1896.1 1278.5L1897.6 1279.9L1899 1281.3L1900.5 1282.6L1901.9 1284.1L1903.4 1285.5L1904.8 1286.9L1906.3 1288.3L1907.7 1289.7L1909.1 1291.1L1910.6 1292.6L1912 1294L1913.4 1295.4L1914.8 1296.9L1916.2 1298.3L1917.6 1299.7L1919 1301.2L1920.4 1302.6L1921.9 1304L1923.3 1305.5L1924.7 1306.9L1926.1 1308.3L1927.5 1309.8L1928.9 1311.2L1930.3 1312.6L1931.7 1314.1L1933.1 1315.5L1934.5 1316.9L1935.9 1318.3L1937.3 1319.7L1938.7 1321.1L1940.1 1322.5L1941.6 1323.9L1943 1325.3L1944.4 1326.7L1945.8 1328.1L1947.3 1329.5L1948.7 1330.9L1950.1 1332.3L1951.6 1333.7L1953 1335L1954.4 1336.4L1955.9 1337.8L1957.3 1339.2L1958.7 1340.5L1960.2 1341.9L1961.6 1343.3L1964 1346L1964 1381.6L1966 1382.3L1967.9 1383L1969.9 1383.7L1971.8 1384.3L1973.8 1385L1975.7 1385.7L1977.7 1386.3L1979.7 1387L1981.6 1387.6L1983.6 1388.3L1985.6 1388.9L1987.5 1389.5L1989.5 1390.1L1991.5 1390.7L1993.5 1391.3L1995.5 1391.8L1997.5 1392.4L1999.5 1392.9L2001.5 1393.4L2003.5 1393.9L2005.5 1394.4L2007.5 1394.9L2009.5 1395.4L2011.5 1395.8L2013.5 1396.2L2015.6 1396.7L2017.6 1397.1L2019.6 1397.5L2021.6 1397.8L2023.7 1398.2L2025.7 1398.6L2027.7 1398.9L2029.8 1399.3L2031.8 1399.6L2033.9 1400L2035.9 1400.3L2038 1400.7L2040 1401"/>
</g>
<g fill="none" stroke="#000" stroke-width="6" stroke-linecap="square">
<rect x="199" y="15.8" width="1841" height="1486.5" stroke-linejoin="miter"/>
</g>
<g stroke="#000" stroke-width="6">
<line x1="199" y1="1502.3" x2="199" y2="1531"/>
<line x1="373.9" y1="1502.3" x2="373.9" y2="1516.5"/>
<line x1="551.2" y1="1502.3" x2="551.2" y2="1531"/>
<line x1="728.5" y1="1502.3" x2="728.5" y2="1516.5"/>
<line x1="905.8" y1="1502.3" x2="905.8" y2="1531"/>
<line x1="1083.1" y1="1502.3" x2="1083.1" y2="1516.5"/>
<line x1="1260.3" y1="1502.3" x2="1260.3" y2="1531"/>
<line x1="1437.6" y1="1502.3" x2="1437.6" y2="1516.5"/>
<line x1="1614.9" y1="1502.3" x2="1614.9" y2="1531"/>
<line x1="1792.2" y1="1502.3" x2="1792.2" y2="1516.5"/>
<line x1="1969.5" y1="1502.3" x2="1969.5" y2="1531"/>
</g>
<g font-size="63" text-anchor="middle">
<text transform="translate(197 1598.5) scale(0.985 1.06)">450</text>
<text transform="translate(551.2 1598.5) scale(0.985 1.06)">500</text>
<text transform="translate(905.8 1598.5) scale(0.985 1.06)">550</text>
<text transform="translate(1260.3 1598.5) scale(0.985 1.06)">600</text>
<text transform="translate(1614.9 1598.5) scale(0.985 1.06)">650</text>
<text transform="translate(1969.5 1598.5) scale(0.985 1.06)">700</text>
</g>
<g stroke-width="8" stroke-linecap="round">
<line x1="217" y1="70.8" x2="389.5" y2="70.8" stroke="#000000"/>
<line x1="217" y1="166.8" x2="389.5" y2="166.8" stroke="#a50000"/>
<line x1="217" y1="264.9" x2="389.5" y2="264.9" stroke="#00007e"/>
<line x1="217" y1="363" x2="389.5" y2="363" stroke="#56087a"/>
<line x1="217" y1="461" x2="389.5" y2="461" stroke="#034a06"/>
</g>
<g font-size="76">
<text transform="translate(409.8 94.1) scale(1.018 1.027)">t=0 min</text>
<text transform="translate(409.8 192.4) scale(1.018 1.027)">t=10 min</text>
<text transform="translate(409.8 290.3) scale(1.018 1.027)">t=20 min</text>
<text transform="translate(409.8 388.4) scale(1.018 1.027)">t=30 min</text>
<text transform="translate(409.8 486.3) scale(1.018 1.027)">t=60 min</text>
</g>
<text transform="translate(1117.5 1723) scale(0.994 1.047)" font-size="78" text-anchor="middle">Wavelength (nm)</text>
<text transform="translate(78 725) rotate(-90)" font-size="78" text-anchor="middle">Absorbance (a.u.)</text>
</svg>
</body></html>
